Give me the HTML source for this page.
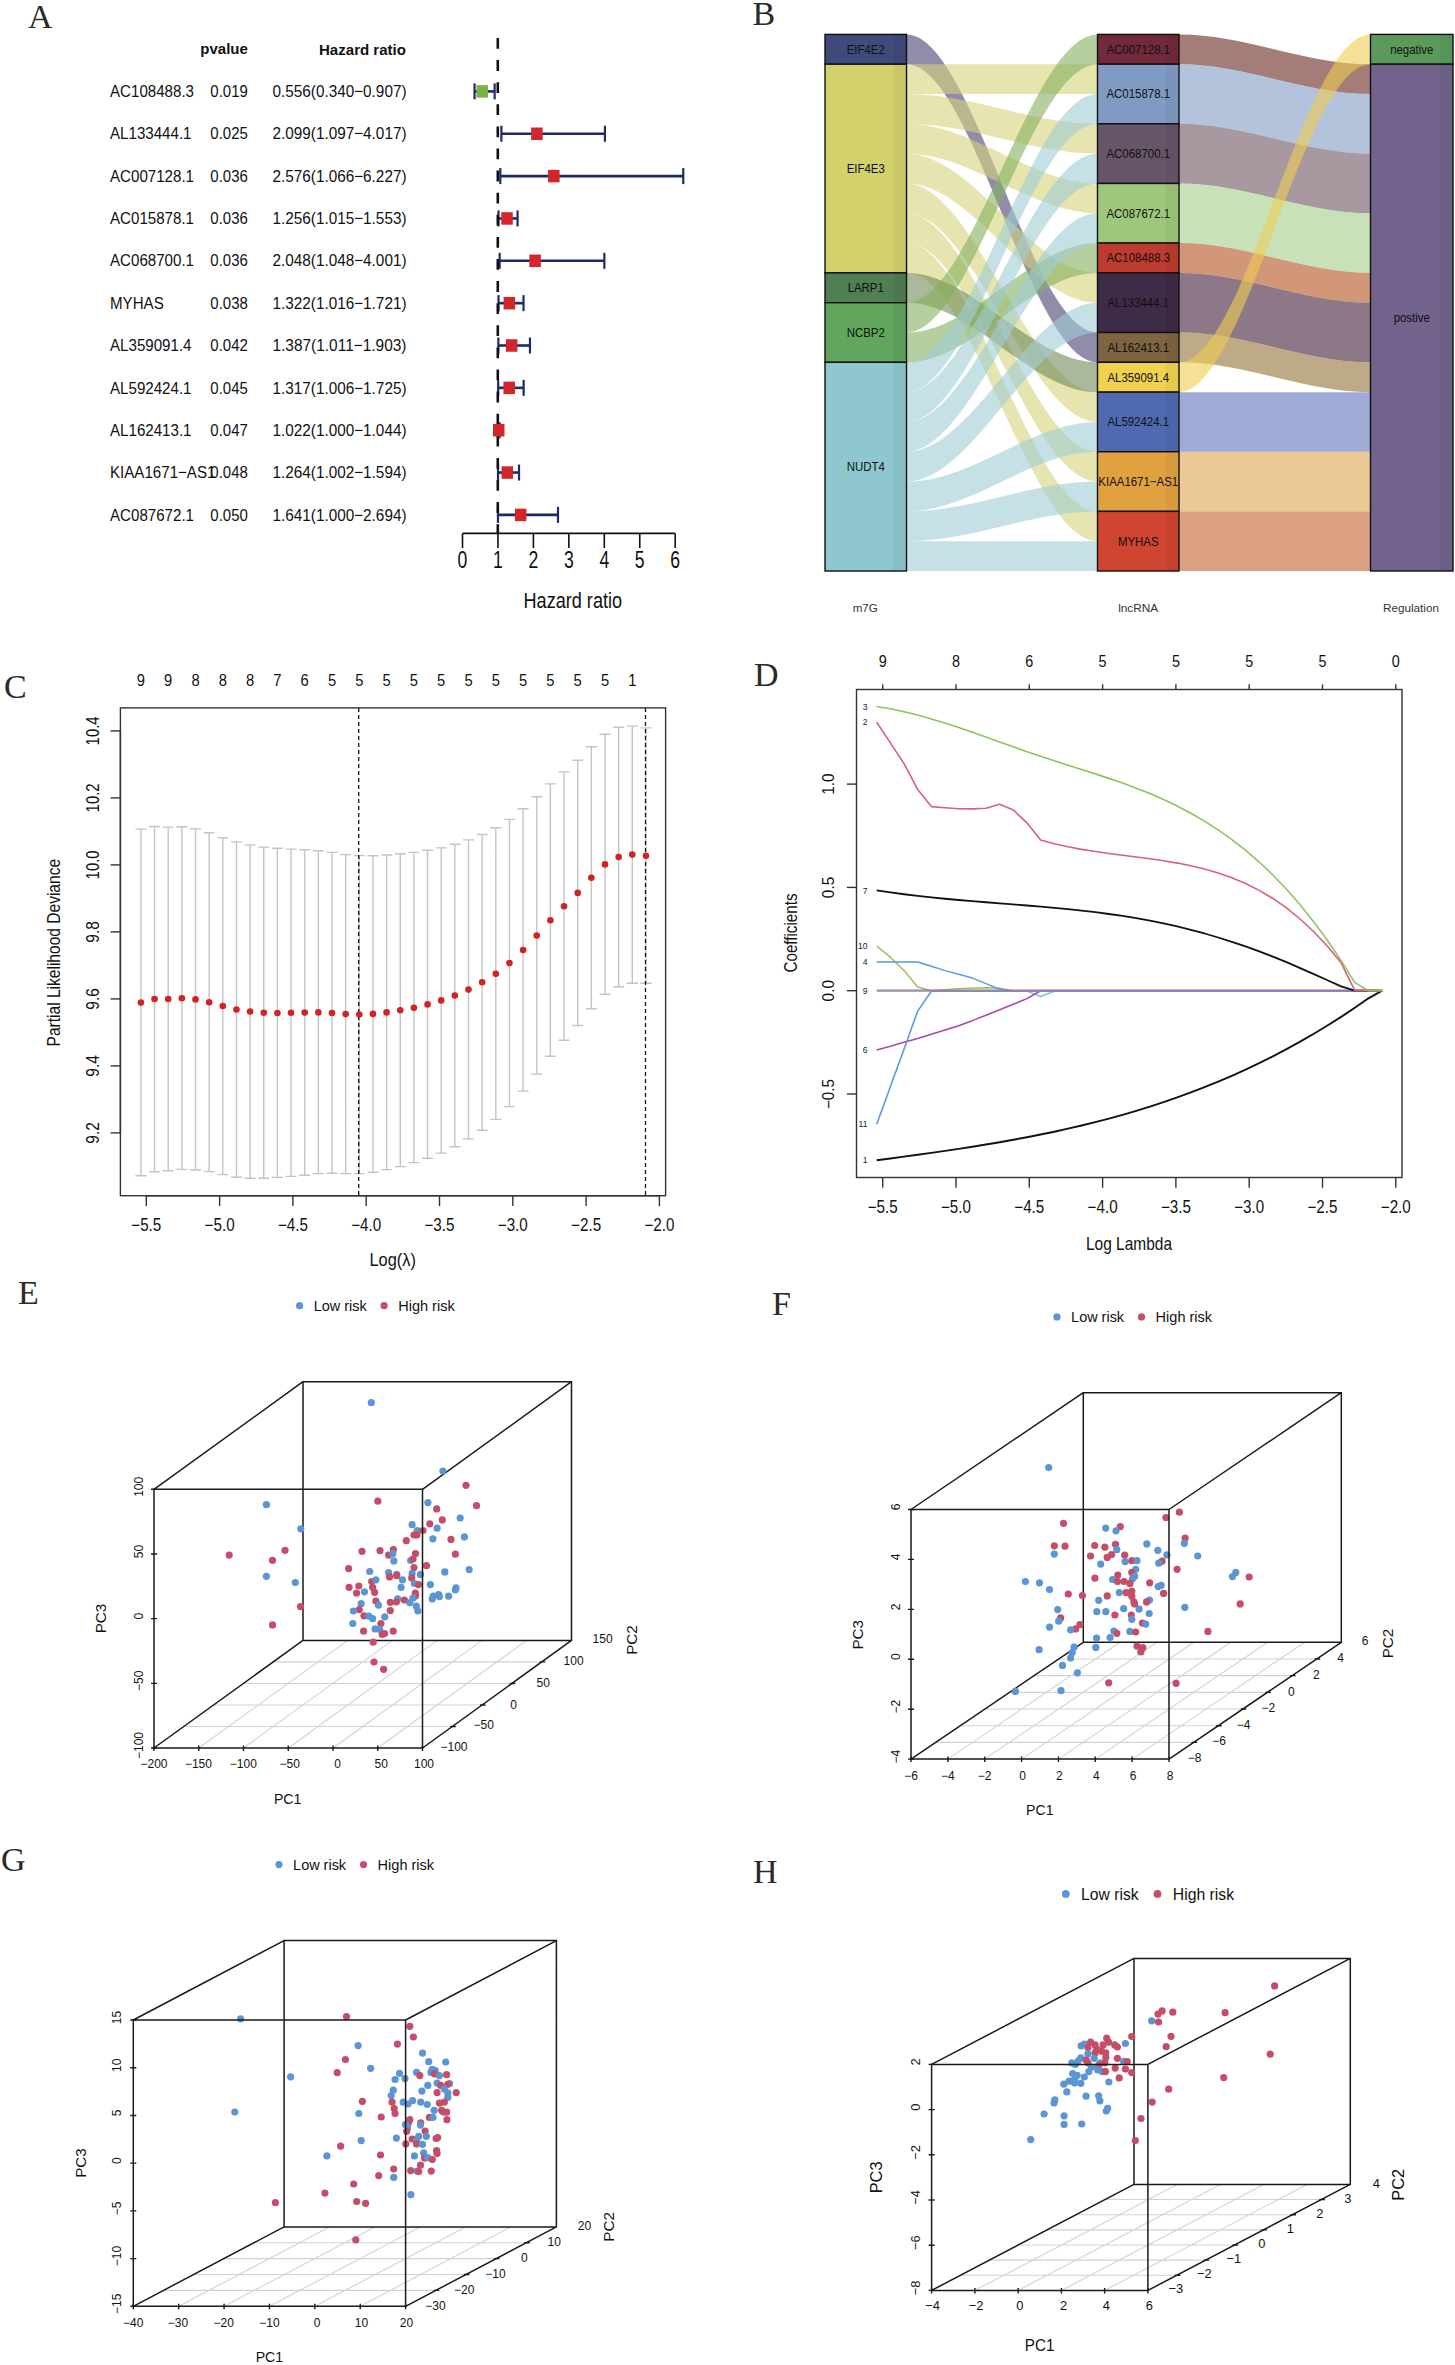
<!DOCTYPE html>
<html><head><meta charset="utf-8"><title>Figure</title>
<style>html,body{margin:0;padding:0;background:#fff;}svg{display:block;}</style>
</head><body>
<svg width="1455" height="2365" viewBox="0 0 1455 2365" font-family='"Liberation Sans", sans-serif'>
<rect width="1455" height="2365" fill="#fff"/>
<text x="28" y="27.5" font-size="34" text-anchor="start" fill="#2a2a2a" font-family='"Liberation Serif", serif' >A</text>
<text x="247.8" y="53.5" font-size="15.5" text-anchor="end" fill="#111" font-weight="bold" textLength="47.5" lengthAdjust="spacingAndGlyphs" >pvalue</text>
<text x="406" y="55.3" font-size="15.5" text-anchor="end" fill="#111" font-weight="bold" textLength="87" lengthAdjust="spacingAndGlyphs" >Hazard ratio</text>
<text x="110" y="96.8" font-size="16.7" text-anchor="start" fill="#111" textLength="84" lengthAdjust="spacingAndGlyphs" >AC108488.3</text>
<text x="247.8" y="96.8" font-size="16.7" text-anchor="end" fill="#111" textLength="37.5" lengthAdjust="spacingAndGlyphs" >0.019</text>
<text x="406.5" y="96.8" font-size="16.7" text-anchor="end" fill="#111" textLength="134" lengthAdjust="spacingAndGlyphs" >0.556(0.340−0.907)</text>
<line x1="474.55" y1="91.4" x2="494.65" y2="91.4" stroke="#1f2a6b" stroke-width="2.6" />
<line x1="474.55" y1="83.4" x2="474.55" y2="99.4" stroke="#1f2a6b" stroke-width="2.2" />
<line x1="494.65" y1="83.4" x2="494.65" y2="99.4" stroke="#1f2a6b" stroke-width="2.2" />
<text x="110" y="139.2" font-size="16.7" text-anchor="start" fill="#111" textLength="81.49" lengthAdjust="spacingAndGlyphs" >AL133444.1</text>
<text x="247.8" y="139.2" font-size="16.7" text-anchor="end" fill="#111" textLength="37.5" lengthAdjust="spacingAndGlyphs" >0.025</text>
<text x="406.5" y="139.2" font-size="16.7" text-anchor="end" fill="#111" textLength="134" lengthAdjust="spacingAndGlyphs" >2.099(1.097−4.017)</text>
<line x1="501.39" y1="133.75" x2="604.9" y2="133.75" stroke="#1f2a6b" stroke-width="2.6" />
<line x1="501.39" y1="125.75" x2="501.39" y2="141.75" stroke="#1f2a6b" stroke-width="2.2" />
<line x1="604.9" y1="125.75" x2="604.9" y2="141.75" stroke="#1f2a6b" stroke-width="2.2" />
<text x="110" y="181.6" font-size="16.7" text-anchor="start" fill="#111" textLength="84" lengthAdjust="spacingAndGlyphs" >AC007128.1</text>
<text x="247.8" y="181.6" font-size="16.7" text-anchor="end" fill="#111" textLength="37.5" lengthAdjust="spacingAndGlyphs" >0.036</text>
<text x="406.5" y="181.6" font-size="16.7" text-anchor="end" fill="#111" textLength="134" lengthAdjust="spacingAndGlyphs" >2.576(1.066−6.227)</text>
<line x1="500.29" y1="176.1" x2="683.25" y2="176.1" stroke="#1f2a6b" stroke-width="2.6" />
<line x1="500.29" y1="168.1" x2="500.29" y2="184.1" stroke="#1f2a6b" stroke-width="2.2" />
<line x1="683.25" y1="168.1" x2="683.25" y2="184.1" stroke="#1f2a6b" stroke-width="2.2" />
<text x="110" y="224" font-size="16.7" text-anchor="start" fill="#111" textLength="84" lengthAdjust="spacingAndGlyphs" >AC015878.1</text>
<text x="247.8" y="224" font-size="16.7" text-anchor="end" fill="#111" textLength="37.5" lengthAdjust="spacingAndGlyphs" >0.036</text>
<text x="406.5" y="224" font-size="16.7" text-anchor="end" fill="#111" textLength="134" lengthAdjust="spacingAndGlyphs" >1.256(1.015−1.553)</text>
<line x1="498.48" y1="218.45" x2="517.55" y2="218.45" stroke="#1f2a6b" stroke-width="2.6" />
<line x1="498.48" y1="210.45" x2="498.48" y2="226.45" stroke="#1f2a6b" stroke-width="2.2" />
<line x1="517.55" y1="210.45" x2="517.55" y2="226.45" stroke="#1f2a6b" stroke-width="2.2" />
<text x="110" y="266.4" font-size="16.7" text-anchor="start" fill="#111" textLength="84" lengthAdjust="spacingAndGlyphs" >AC068700.1</text>
<text x="247.8" y="266.4" font-size="16.7" text-anchor="end" fill="#111" textLength="37.5" lengthAdjust="spacingAndGlyphs" >0.036</text>
<text x="406.5" y="266.4" font-size="16.7" text-anchor="end" fill="#111" textLength="134" lengthAdjust="spacingAndGlyphs" >2.048(1.048−4.001)</text>
<line x1="499.65" y1="260.8" x2="604.34" y2="260.8" stroke="#1f2a6b" stroke-width="2.6" />
<line x1="499.65" y1="252.8" x2="499.65" y2="268.8" stroke="#1f2a6b" stroke-width="2.2" />
<line x1="604.34" y1="252.8" x2="604.34" y2="268.8" stroke="#1f2a6b" stroke-width="2.2" />
<text x="110" y="308.8" font-size="16.7" text-anchor="start" fill="#111" textLength="53.73" lengthAdjust="spacingAndGlyphs" >MYHAS</text>
<text x="247.8" y="308.8" font-size="16.7" text-anchor="end" fill="#111" textLength="37.5" lengthAdjust="spacingAndGlyphs" >0.038</text>
<text x="406.5" y="308.8" font-size="16.7" text-anchor="end" fill="#111" textLength="134" lengthAdjust="spacingAndGlyphs" >1.322(1.016−1.721)</text>
<line x1="498.52" y1="303.15" x2="523.51" y2="303.15" stroke="#1f2a6b" stroke-width="2.6" />
<line x1="498.52" y1="295.15" x2="498.52" y2="311.15" stroke="#1f2a6b" stroke-width="2.2" />
<line x1="523.51" y1="295.15" x2="523.51" y2="311.15" stroke="#1f2a6b" stroke-width="2.2" />
<text x="110" y="351.2" font-size="16.7" text-anchor="start" fill="#111" textLength="81.49" lengthAdjust="spacingAndGlyphs" >AL359091.4</text>
<text x="247.8" y="351.2" font-size="16.7" text-anchor="end" fill="#111" textLength="37.5" lengthAdjust="spacingAndGlyphs" >0.042</text>
<text x="406.5" y="351.2" font-size="16.7" text-anchor="end" fill="#111" textLength="134" lengthAdjust="spacingAndGlyphs" >1.387(1.011−1.903)</text>
<line x1="498.34" y1="345.5" x2="529.96" y2="345.5" stroke="#1f2a6b" stroke-width="2.6" />
<line x1="498.34" y1="337.5" x2="498.34" y2="353.5" stroke="#1f2a6b" stroke-width="2.2" />
<line x1="529.96" y1="337.5" x2="529.96" y2="353.5" stroke="#1f2a6b" stroke-width="2.2" />
<text x="110" y="393.6" font-size="16.7" text-anchor="start" fill="#111" textLength="81.49" lengthAdjust="spacingAndGlyphs" >AL592424.1</text>
<text x="247.8" y="393.6" font-size="16.7" text-anchor="end" fill="#111" textLength="37.5" lengthAdjust="spacingAndGlyphs" >0.045</text>
<text x="406.5" y="393.6" font-size="16.7" text-anchor="end" fill="#111" textLength="134" lengthAdjust="spacingAndGlyphs" >1.317(1.006−1.725)</text>
<line x1="498.16" y1="387.85" x2="523.65" y2="387.85" stroke="#1f2a6b" stroke-width="2.6" />
<line x1="498.16" y1="379.85" x2="498.16" y2="395.85" stroke="#1f2a6b" stroke-width="2.2" />
<line x1="523.65" y1="379.85" x2="523.65" y2="395.85" stroke="#1f2a6b" stroke-width="2.2" />
<text x="110" y="436" font-size="16.7" text-anchor="start" fill="#111" textLength="81.49" lengthAdjust="spacingAndGlyphs" >AL162413.1</text>
<text x="247.8" y="436" font-size="16.7" text-anchor="end" fill="#111" textLength="37.5" lengthAdjust="spacingAndGlyphs" >0.047</text>
<text x="406.5" y="436" font-size="16.7" text-anchor="end" fill="#111" textLength="134" lengthAdjust="spacingAndGlyphs" >1.022(1.000−1.044)</text>
<line x1="497.95" y1="430.2" x2="499.51" y2="430.2" stroke="#1f2a6b" stroke-width="2.6" />
<line x1="497.95" y1="422.2" x2="497.95" y2="438.2" stroke="#1f2a6b" stroke-width="2.2" />
<line x1="499.51" y1="422.2" x2="499.51" y2="438.2" stroke="#1f2a6b" stroke-width="2.2" />
<text x="110" y="478.4" font-size="16.7" text-anchor="start" fill="#111" textLength="105.42" lengthAdjust="spacingAndGlyphs" >KIAA1671−AS1</text>
<text x="247.8" y="478.4" font-size="16.7" text-anchor="end" fill="#111" textLength="37.5" lengthAdjust="spacingAndGlyphs" >0.048</text>
<text x="406.5" y="478.4" font-size="16.7" text-anchor="end" fill="#111" textLength="134" lengthAdjust="spacingAndGlyphs" >1.264(1.002−1.594)</text>
<line x1="498.02" y1="472.55" x2="519.01" y2="472.55" stroke="#1f2a6b" stroke-width="2.6" />
<line x1="498.02" y1="464.55" x2="498.02" y2="480.55" stroke="#1f2a6b" stroke-width="2.2" />
<line x1="519.01" y1="464.55" x2="519.01" y2="480.55" stroke="#1f2a6b" stroke-width="2.2" />
<text x="110" y="520.8" font-size="16.7" text-anchor="start" fill="#111" textLength="84" lengthAdjust="spacingAndGlyphs" >AC087672.1</text>
<text x="247.8" y="520.8" font-size="16.7" text-anchor="end" fill="#111" textLength="37.5" lengthAdjust="spacingAndGlyphs" >0.050</text>
<text x="406.5" y="520.8" font-size="16.7" text-anchor="end" fill="#111" textLength="134" lengthAdjust="spacingAndGlyphs" >1.641(1.000−2.694)</text>
<line x1="497.95" y1="514.9" x2="558" y2="514.9" stroke="#1f2a6b" stroke-width="2.6" />
<line x1="497.95" y1="506.9" x2="497.95" y2="522.9" stroke="#1f2a6b" stroke-width="2.2" />
<line x1="558" y1="506.9" x2="558" y2="522.9" stroke="#1f2a6b" stroke-width="2.2" />
<line x1="497.8" y1="38" x2="497.8" y2="533.5" stroke="#111" stroke-width="2.6" stroke-dasharray="10.8,11.3"/>
<rect x="476.46" y="85.15" width="11.5" height="12.5" fill="#7bb342"/>
<rect x="531.16" y="127.5" width="11.5" height="12.5" fill="#d3262b"/>
<rect x="548.07" y="169.85" width="11.5" height="12.5" fill="#d3262b"/>
<rect x="501.28" y="212.2" width="11.5" height="12.5" fill="#d3262b"/>
<rect x="529.35" y="254.55" width="11.5" height="12.5" fill="#d3262b"/>
<rect x="503.61" y="296.9" width="11.5" height="12.5" fill="#d3262b"/>
<rect x="505.92" y="339.25" width="11.5" height="12.5" fill="#d3262b"/>
<rect x="503.44" y="381.6" width="11.5" height="12.5" fill="#d3262b"/>
<rect x="492.98" y="423.95" width="11.5" height="12.5" fill="#d3262b"/>
<rect x="501.56" y="466.3" width="11.5" height="12.5" fill="#d3262b"/>
<rect x="514.92" y="508.65" width="11.5" height="12.5" fill="#d3262b"/>
<line x1="462.5" y1="533.4" x2="675.2" y2="533.4" stroke="#111" stroke-width="1.6" />
<line x1="462.5" y1="533.4" x2="462.5" y2="548" stroke="#111" stroke-width="1.6" />
<text x="462.5" y="568.4" font-size="23.8" text-anchor="middle" fill="#111" textLength="9.8" lengthAdjust="spacingAndGlyphs" >0</text>
<line x1="497.95" y1="533.4" x2="497.95" y2="548" stroke="#111" stroke-width="1.6" />
<text x="497.95" y="568.4" font-size="23.8" text-anchor="middle" fill="#111" textLength="9.8" lengthAdjust="spacingAndGlyphs" >1</text>
<line x1="533.4" y1="533.4" x2="533.4" y2="548" stroke="#111" stroke-width="1.6" />
<text x="533.4" y="568.4" font-size="23.8" text-anchor="middle" fill="#111" textLength="9.8" lengthAdjust="spacingAndGlyphs" >2</text>
<line x1="568.85" y1="533.4" x2="568.85" y2="548" stroke="#111" stroke-width="1.6" />
<text x="568.85" y="568.4" font-size="23.8" text-anchor="middle" fill="#111" textLength="9.8" lengthAdjust="spacingAndGlyphs" >3</text>
<line x1="604.3" y1="533.4" x2="604.3" y2="548" stroke="#111" stroke-width="1.6" />
<text x="604.3" y="568.4" font-size="23.8" text-anchor="middle" fill="#111" textLength="9.8" lengthAdjust="spacingAndGlyphs" >4</text>
<line x1="639.75" y1="533.4" x2="639.75" y2="548" stroke="#111" stroke-width="1.6" />
<text x="639.75" y="568.4" font-size="23.8" text-anchor="middle" fill="#111" textLength="9.8" lengthAdjust="spacingAndGlyphs" >5</text>
<line x1="675.2" y1="533.4" x2="675.2" y2="548" stroke="#111" stroke-width="1.6" />
<text x="675.2" y="568.4" font-size="23.8" text-anchor="middle" fill="#111" textLength="9.8" lengthAdjust="spacingAndGlyphs" >6</text>
<text x="572.8" y="608.3" font-size="22.5" text-anchor="middle" fill="#111" textLength="98.5" lengthAdjust="spacingAndGlyphs" >Hazard ratio</text>
<text x="752.5" y="25.2" font-size="34" text-anchor="start" fill="#2a2a2a" font-family='"Liberation Serif", serif' >B</text>
<path d="M906.5,34.4 C973.35,34.4 1030.65,332.51 1097.5,332.51 L1097.5,362.32 C1030.65,362.32 973.35,64.21 906.5,64.21 Z" fill="#483f71" fill-opacity="0.6"/>
<path d="M906.5,64.21 C973.35,64.21 1030.65,64.21 1097.5,64.21 L1097.5,94.02 C1030.65,94.02 973.35,94.02 906.5,94.02 Z" fill="#d5d27a" fill-opacity="0.6"/>
<path d="M906.5,94.02 C973.35,94.02 1030.65,123.83 1097.5,123.83 L1097.5,153.64 C1030.65,153.64 973.35,123.83 906.5,123.83 Z" fill="#d5d27a" fill-opacity="0.6"/>
<path d="M906.5,123.83 C973.35,123.83 1030.65,183.46 1097.5,183.46 L1097.5,213.27 C1030.65,213.27 973.35,153.64 906.5,153.64 Z" fill="#d5d27a" fill-opacity="0.6"/>
<path d="M906.5,153.64 C973.35,153.64 1030.65,272.89 1097.5,272.89 L1097.5,302.7 C1030.65,302.7 973.35,183.46 906.5,183.46 Z" fill="#d5d27a" fill-opacity="0.6"/>
<path d="M906.5,183.46 C973.35,183.46 1030.65,392.13 1097.5,392.13 L1097.5,421.94 C1030.65,421.94 973.35,213.27 906.5,213.27 Z" fill="#d5d27a" fill-opacity="0.6"/>
<path d="M906.5,213.27 C973.35,213.27 1030.65,451.76 1097.5,451.76 L1097.5,481.57 C1030.65,481.57 973.35,243.08 906.5,243.08 Z" fill="#d5d27a" fill-opacity="0.6"/>
<path d="M906.5,243.08 C973.35,243.08 1030.65,511.38 1097.5,511.38 L1097.5,541.19 C1030.65,541.19 973.35,272.89 906.5,272.89 Z" fill="#d5d27a" fill-opacity="0.6"/>
<path d="M906.5,272.89 C973.35,272.89 1030.65,362.32 1097.5,362.32 L1097.5,392.13 C1030.65,392.13 973.35,302.7 906.5,302.7 Z" fill="#718a58" fill-opacity="0.6"/>
<path d="M906.5,302.7 C973.35,302.7 1030.65,34.4 1097.5,34.4 L1097.5,64.21 C1030.65,64.21 973.35,332.51 906.5,332.51 Z" fill="#84af5d" fill-opacity="0.6"/>
<path d="M906.5,332.51 C973.35,332.51 1030.65,243.08 1097.5,243.08 L1097.5,272.89 C1030.65,272.89 973.35,362.32 906.5,362.32 Z" fill="#84af5d" fill-opacity="0.6"/>
<path d="M906.5,362.32 C973.35,362.32 1030.65,94.02 1097.5,94.02 L1097.5,123.83 C1030.65,123.83 973.35,392.13 906.5,392.13 Z" fill="#a0cdd5" fill-opacity="0.6"/>
<path d="M906.5,392.13 C973.35,392.13 1030.65,153.64 1097.5,153.64 L1097.5,183.46 C1030.65,183.46 973.35,421.94 906.5,421.94 Z" fill="#a0cdd5" fill-opacity="0.6"/>
<path d="M906.5,421.94 C973.35,421.94 1030.65,213.27 1097.5,213.27 L1097.5,243.08 C1030.65,243.08 973.35,451.76 906.5,451.76 Z" fill="#a0cdd5" fill-opacity="0.6"/>
<path d="M906.5,451.76 C973.35,451.76 1030.65,302.7 1097.5,302.7 L1097.5,332.51 C1030.65,332.51 973.35,481.57 906.5,481.57 Z" fill="#a0cdd5" fill-opacity="0.6"/>
<path d="M906.5,481.57 C973.35,481.57 1030.65,421.94 1097.5,421.94 L1097.5,451.76 C1030.65,451.76 973.35,511.38 906.5,511.38 Z" fill="#a0cdd5" fill-opacity="0.6"/>
<path d="M906.5,511.38 C973.35,511.38 1030.65,481.57 1097.5,481.57 L1097.5,511.38 C1030.65,511.38 973.35,541.19 906.5,541.19 Z" fill="#a0cdd5" fill-opacity="0.6"/>
<path d="M906.5,541.19 C973.35,541.19 1030.65,541.19 1097.5,541.19 L1097.5,571 C1030.65,571 973.35,571 906.5,571 Z" fill="#a0cdd5" fill-opacity="0.6"/>
<path d="M1179,34.4 C1246.03,34.4 1303.47,64.21 1370.5,64.21 L1370.5,94.02 C1303.47,94.02 1246.03,64.21 1179,64.21 Z" fill="#69261e" fill-opacity="0.6"/>
<path d="M1179,64.21 C1246.03,64.21 1303.47,94.02 1370.5,94.02 L1370.5,153.64 C1303.47,153.64 1246.03,123.83 1179,123.83 Z" fill="#829bc5" fill-opacity="0.6"/>
<path d="M1179,123.83 C1246.03,123.83 1303.47,153.64 1370.5,153.64 L1370.5,213.27 C1303.47,213.27 1246.03,183.46 1179,183.46 Z" fill="#6e5361" fill-opacity="0.6"/>
<path d="M1179,183.46 C1246.03,183.46 1303.47,213.27 1370.5,213.27 L1370.5,272.89 C1303.47,272.89 1246.03,243.08 1179,243.08 Z" fill="#a3cd8a" fill-opacity="0.6"/>
<path d="M1179,243.08 C1246.03,243.08 1303.47,272.89 1370.5,272.89 L1370.5,302.7 C1303.47,302.7 1246.03,272.89 1179,272.89 Z" fill="#b4501e" fill-opacity="0.6"/>
<path d="M1179,272.89 C1246.03,272.89 1303.47,302.7 1370.5,302.7 L1370.5,362.32 C1303.47,362.32 1246.03,332.51 1179,332.51 Z" fill="#3f1e37" fill-opacity="0.6"/>
<path d="M1179,332.51 C1246.03,332.51 1303.47,362.32 1370.5,362.32 L1370.5,392.13 C1303.47,392.13 1246.03,362.32 1179,362.32 Z" fill="#937137" fill-opacity="0.6"/>
<path d="M1179,362.32 C1246.03,362.32 1303.47,34.4 1370.5,34.4 L1370.5,64.21 C1303.47,64.21 1246.03,392.13 1179,392.13 Z" fill="#eecd50" fill-opacity="0.6"/>
<path d="M1179,392.13 C1246.03,392.13 1303.47,392.13 1370.5,392.13 L1370.5,451.76 C1303.47,451.76 1246.03,451.76 1179,451.76 Z" fill="#6171bc" fill-opacity="0.6"/>
<path d="M1179,451.76 C1246.03,451.76 1303.47,451.76 1370.5,451.76 L1370.5,511.38 C1303.47,511.38 1246.03,511.38 1179,511.38 Z" fill="#dea350" fill-opacity="0.6"/>
<path d="M1179,511.38 C1246.03,511.38 1303.47,511.38 1370.5,511.38 L1370.5,571 C1303.47,571 1246.03,571 1179,571 Z" fill="#c5612f" fill-opacity="0.6"/>
<rect x="825" y="34.4" width="81.5" height="29.81" fill="#3f4b7d"/>
<rect x="893.5" y="34.4" width="13" height="29.81" fill="#000" fill-opacity="0.045"/>
<rect x="825" y="34.4" width="81.5" height="29.81" fill="none" stroke="#111" stroke-width="1.4"/>
<text x="865.75" y="53.71" font-size="12.3" text-anchor="middle" fill="#111" textLength="38.15" lengthAdjust="spacingAndGlyphs" >EIF4E2</text>
<rect x="825" y="64.21" width="81.5" height="208.68" fill="#d3d16c"/>
<rect x="893.5" y="64.21" width="13" height="208.68" fill="#000" fill-opacity="0.045"/>
<rect x="825" y="64.21" width="81.5" height="208.68" fill="none" stroke="#111" stroke-width="1.4"/>
<text x="865.75" y="172.95" font-size="12.3" text-anchor="middle" fill="#111" textLength="38.15" lengthAdjust="spacingAndGlyphs" >EIF4E3</text>
<rect x="825" y="272.89" width="81.5" height="29.81" fill="#4f7f53"/>
<rect x="893.5" y="272.89" width="13" height="29.81" fill="#000" fill-opacity="0.045"/>
<rect x="825" y="272.89" width="81.5" height="29.81" fill="none" stroke="#111" stroke-width="1.4"/>
<text x="865.75" y="292.19" font-size="12.3" text-anchor="middle" fill="#111" textLength="36.24" lengthAdjust="spacingAndGlyphs" >LARP1</text>
<rect x="825" y="302.7" width="81.5" height="59.62" fill="#61a65d"/>
<rect x="893.5" y="302.7" width="13" height="59.62" fill="#000" fill-opacity="0.045"/>
<rect x="825" y="302.7" width="81.5" height="59.62" fill="none" stroke="#111" stroke-width="1.4"/>
<text x="865.75" y="336.91" font-size="12.3" text-anchor="middle" fill="#111" textLength="38.14" lengthAdjust="spacingAndGlyphs" >NCBP2</text>
<rect x="825" y="362.32" width="81.5" height="208.68" fill="#8fc7d0"/>
<rect x="893.5" y="362.32" width="13" height="208.68" fill="#000" fill-opacity="0.045"/>
<rect x="825" y="362.32" width="81.5" height="208.68" fill="none" stroke="#111" stroke-width="1.4"/>
<text x="865.75" y="471.06" font-size="12.3" text-anchor="middle" fill="#111" textLength="38.13" lengthAdjust="spacingAndGlyphs" >NUDT4</text>
<rect x="1097.5" y="34.4" width="81.5" height="29.81" fill="#72293a"/>
<rect x="1166" y="34.4" width="13" height="29.81" fill="#000" fill-opacity="0.045"/>
<rect x="1097.5" y="34.4" width="81.5" height="29.81" fill="none" stroke="#111" stroke-width="1.4"/>
<text x="1138.25" y="53.71" font-size="12.3" text-anchor="middle" fill="#111" textLength="63.6" lengthAdjust="spacingAndGlyphs" >AC007128.1</text>
<rect x="1097.5" y="64.21" width="81.5" height="59.62" fill="#7f9bc4"/>
<rect x="1166" y="64.21" width="13" height="59.62" fill="#000" fill-opacity="0.045"/>
<rect x="1097.5" y="64.21" width="81.5" height="59.62" fill="none" stroke="#111" stroke-width="1.4"/>
<text x="1138.25" y="98.42" font-size="12.3" text-anchor="middle" fill="#111" textLength="63.6" lengthAdjust="spacingAndGlyphs" >AC015878.1</text>
<rect x="1097.5" y="123.83" width="81.5" height="59.62" fill="#675568"/>
<rect x="1166" y="123.83" width="13" height="59.62" fill="#000" fill-opacity="0.045"/>
<rect x="1097.5" y="123.83" width="81.5" height="59.62" fill="none" stroke="#111" stroke-width="1.4"/>
<text x="1138.25" y="158.04" font-size="12.3" text-anchor="middle" fill="#111" textLength="63.6" lengthAdjust="spacingAndGlyphs" >AC068700.1</text>
<rect x="1097.5" y="183.46" width="81.5" height="59.62" fill="#9dc77b"/>
<rect x="1166" y="183.46" width="13" height="59.62" fill="#000" fill-opacity="0.045"/>
<rect x="1097.5" y="183.46" width="81.5" height="59.62" fill="none" stroke="#111" stroke-width="1.4"/>
<text x="1138.25" y="217.67" font-size="12.3" text-anchor="middle" fill="#111" textLength="63.6" lengthAdjust="spacingAndGlyphs" >AC087672.1</text>
<rect x="1097.5" y="243.08" width="81.5" height="29.81" fill="#bd3b2f"/>
<rect x="1166" y="243.08" width="13" height="29.81" fill="#000" fill-opacity="0.045"/>
<rect x="1097.5" y="243.08" width="81.5" height="29.81" fill="none" stroke="#111" stroke-width="1.4"/>
<text x="1138.25" y="262.38" font-size="12.3" text-anchor="middle" fill="#111" textLength="63.6" lengthAdjust="spacingAndGlyphs" >AC108488.3</text>
<rect x="1097.5" y="272.89" width="81.5" height="59.62" fill="#3e2b48"/>
<rect x="1166" y="272.89" width="13" height="59.62" fill="#000" fill-opacity="0.045"/>
<rect x="1097.5" y="272.89" width="81.5" height="59.62" fill="none" stroke="#111" stroke-width="1.4"/>
<text x="1138.25" y="307.1" font-size="12.3" text-anchor="middle" fill="#111" textLength="61.7" lengthAdjust="spacingAndGlyphs" >AL133444.1</text>
<rect x="1097.5" y="332.51" width="81.5" height="29.81" fill="#7e6440"/>
<rect x="1166" y="332.51" width="13" height="29.81" fill="#000" fill-opacity="0.045"/>
<rect x="1097.5" y="332.51" width="81.5" height="29.81" fill="none" stroke="#111" stroke-width="1.4"/>
<text x="1138.25" y="351.82" font-size="12.3" text-anchor="middle" fill="#111" textLength="61.7" lengthAdjust="spacingAndGlyphs" >AL162413.1</text>
<rect x="1097.5" y="362.32" width="81.5" height="29.81" fill="#f0d150"/>
<rect x="1166" y="362.32" width="13" height="29.81" fill="#000" fill-opacity="0.045"/>
<rect x="1097.5" y="362.32" width="81.5" height="29.81" fill="none" stroke="#111" stroke-width="1.4"/>
<text x="1138.25" y="381.63" font-size="12.3" text-anchor="middle" fill="#111" textLength="61.7" lengthAdjust="spacingAndGlyphs" >AL359091.4</text>
<rect x="1097.5" y="392.13" width="81.5" height="59.62" fill="#5169b1"/>
<rect x="1166" y="392.13" width="13" height="59.62" fill="#000" fill-opacity="0.045"/>
<rect x="1097.5" y="392.13" width="81.5" height="59.62" fill="none" stroke="#111" stroke-width="1.4"/>
<text x="1138.25" y="426.34" font-size="12.3" text-anchor="middle" fill="#111" textLength="61.7" lengthAdjust="spacingAndGlyphs" >AL592424.1</text>
<rect x="1097.5" y="451.76" width="81.5" height="59.62" fill="#e2a141"/>
<rect x="1166" y="451.76" width="13" height="59.62" fill="#000" fill-opacity="0.045"/>
<rect x="1097.5" y="451.76" width="81.5" height="59.62" fill="none" stroke="#111" stroke-width="1.4"/>
<text x="1138.25" y="485.97" font-size="12.3" text-anchor="middle" fill="#111" textLength="79.82" lengthAdjust="spacingAndGlyphs" >KIAA1671−AS1</text>
<rect x="1097.5" y="511.38" width="81.5" height="59.62" fill="#d0452f"/>
<rect x="1166" y="511.38" width="13" height="59.62" fill="#000" fill-opacity="0.045"/>
<rect x="1097.5" y="511.38" width="81.5" height="59.62" fill="none" stroke="#111" stroke-width="1.4"/>
<text x="1138.25" y="545.59" font-size="12.3" text-anchor="middle" fill="#111" textLength="40.68" lengthAdjust="spacingAndGlyphs" >MYHAS</text>
<rect x="1370.5" y="34.4" width="82.5" height="29.81" fill="#5c9a5c"/>
<rect x="1440" y="34.4" width="13" height="29.81" fill="#000" fill-opacity="0.045"/>
<rect x="1370.5" y="34.4" width="82.5" height="29.81" fill="none" stroke="#111" stroke-width="1.4"/>
<text x="1411.75" y="53.71" font-size="12.3" text-anchor="middle" fill="#111" textLength="43.24" lengthAdjust="spacingAndGlyphs" >negative</text>
<rect x="1370.5" y="64.21" width="82.5" height="506.79" fill="#72638c"/>
<rect x="1440" y="64.21" width="13" height="506.79" fill="#000" fill-opacity="0.045"/>
<rect x="1370.5" y="64.21" width="82.5" height="506.79" fill="none" stroke="#111" stroke-width="1.4"/>
<text x="1411.75" y="322.01" font-size="12.3" text-anchor="middle" fill="#111" textLength="36.24" lengthAdjust="spacingAndGlyphs" >postive</text>
<text x="865.2" y="612.4" font-size="11.8" text-anchor="middle" fill="#333" textLength="25" lengthAdjust="spacingAndGlyphs" >m7G</text>
<text x="1138.2" y="612.4" font-size="11.8" text-anchor="middle" fill="#333" textLength="40" lengthAdjust="spacingAndGlyphs" >lncRNA</text>
<text x="1411" y="612.4" font-size="11.8" text-anchor="middle" fill="#333" textLength="56" lengthAdjust="spacingAndGlyphs" >Regulation</text>
<text x="4" y="697.5" font-size="34" text-anchor="start" fill="#2a2a2a" font-family='"Liberation Serif", serif' >C</text>
<path d="M140.9,829.1V1175.8M135.4,829.1H146.4M135.4,1175.8H146.4M154.55,826.5V1171.8M149.05,826.5H160.05M149.05,1171.8H160.05M168.2,827.1V1170.8M162.7,827.1H173.7M162.7,1170.8H173.7M181.85,826.7V1169.4M176.35,826.7H187.35M176.35,1169.4H187.35M195.5,828.9V1170M190,828.9H201M190,1170H201M209.15,832.7V1171.6M203.65,832.7H214.65M203.65,1171.6H214.65M222.8,837.7V1174.6M217.3,837.7H228.3M217.3,1174.6H228.3M236.45,841.9V1177.2M230.95,841.9H241.95M230.95,1177.2H241.95M250.1,844.9V1178.2M244.6,844.9H255.6M244.6,1178.2H255.6M263.75,847.1V1178.2M258.25,847.1H269.25M258.25,1178.2H269.25M277.4,848.3V1177.4M271.9,848.3H282.9M271.9,1177.4H282.9M291.05,849.1V1176.4M285.55,849.1H296.55M285.55,1176.4H296.55M304.7,849.7V1175.2M299.2,849.7H310.2M299.2,1175.2H310.2M318.35,850.7V1173.6M312.85,850.7H323.85M312.85,1173.6H323.85M332,852.4V1173.2M326.5,852.4H337.5M326.5,1173.2H337.5M345.65,854.6V1173.6M340.15,854.6H351.15M340.15,1173.6H351.15M359.3,855.6V1173.6M353.8,855.6H364.8M353.8,1173.6H364.8M372.95,855.8V1172.2M367.45,855.8H378.45M367.45,1172.2H378.45M386.6,855V1169.6M381.1,855H392.1M381.1,1169.6H392.1M400.25,853.8V1166.6M394.75,853.8H405.75M394.75,1166.6H405.75M413.9,852.4V1162.6M408.4,852.4H419.4M408.4,1162.6H419.4M427.55,850.2V1158.3M422.05,850.2H433.05M422.05,1158.3H433.05M441.2,847.9V1153.1M435.7,847.9H446.7M435.7,1153.1H446.7M454.85,844.3V1146.7M449.35,844.3H460.35M449.35,1146.7H460.35M468.5,839.9V1138.9M463,839.9H474M463,1138.9H474M482.15,834.5V1130.2M476.65,834.5H487.65M476.65,1130.2H487.65M495.8,827.7V1119.4M490.3,827.7H501.3M490.3,1119.4H501.3M509.45,819.4V1106.6M503.95,819.4H514.95M503.95,1106.6H514.95M523.1,808.8V1091.1M517.6,808.8H528.6M517.6,1091.1H528.6M536.75,796.8V1074.1M531.25,796.8H542.25M531.25,1074.1H542.25M550.4,783.9V1056.2M544.9,783.9H555.9M544.9,1056.2H555.9M564.05,771.9V1040.3M558.55,771.9H569.55M558.55,1040.3H569.55M577.7,760.2V1025.5M572.2,760.2H583.2M572.2,1025.5H583.2M591.35,746.8V1008.8M585.85,746.8H596.85M585.85,1008.8H596.85M605,734.2V994.2M599.5,734.2H610.5M599.5,994.2H610.5M618.65,727.3V986.8M613.15,727.3H624.15M613.15,986.8H624.15M632.3,726.1V983.3M626.8,726.1H637.8M626.8,983.3H637.8M645.95,727.9V983.3M640.45,727.9H651.45M640.45,983.3H651.45" stroke="#c4c4c4" stroke-width="1.4" fill="none"/>
<line x1="358.7" y1="707.9" x2="358.7" y2="1195.7" stroke="#111" stroke-width="1.3" stroke-dasharray="4,3"/>
<line x1="645.5" y1="707.9" x2="645.5" y2="1195.7" stroke="#111" stroke-width="1.3" stroke-dasharray="4,3"/>
<circle cx="140.9" cy="1002.6" r="3.3" fill="#d02424"/>
<circle cx="154.55" cy="999" r="3.3" fill="#d02424"/>
<circle cx="168.2" cy="999" r="3.3" fill="#d02424"/>
<circle cx="181.85" cy="998.2" r="3.3" fill="#d02424"/>
<circle cx="195.5" cy="999.4" r="3.3" fill="#d02424"/>
<circle cx="209.15" cy="1002.2" r="3.3" fill="#d02424"/>
<circle cx="222.8" cy="1006" r="3.3" fill="#d02424"/>
<circle cx="236.45" cy="1009.6" r="3.3" fill="#d02424"/>
<circle cx="250.1" cy="1011.6" r="3.3" fill="#d02424"/>
<circle cx="263.75" cy="1012.8" r="3.3" fill="#d02424"/>
<circle cx="277.4" cy="1013" r="3.3" fill="#d02424"/>
<circle cx="291.05" cy="1012.8" r="3.3" fill="#d02424"/>
<circle cx="304.7" cy="1012.6" r="3.3" fill="#d02424"/>
<circle cx="318.35" cy="1012.4" r="3.3" fill="#d02424"/>
<circle cx="332" cy="1013" r="3.3" fill="#d02424"/>
<circle cx="345.65" cy="1014.1" r="3.3" fill="#d02424"/>
<circle cx="359.3" cy="1014.5" r="3.3" fill="#d02424"/>
<circle cx="372.95" cy="1013.9" r="3.3" fill="#d02424"/>
<circle cx="386.6" cy="1012.4" r="3.3" fill="#d02424"/>
<circle cx="400.25" cy="1010.2" r="3.3" fill="#d02424"/>
<circle cx="413.9" cy="1007.8" r="3.3" fill="#d02424"/>
<circle cx="427.55" cy="1004.4" r="3.3" fill="#d02424"/>
<circle cx="441.2" cy="1000.4" r="3.3" fill="#d02424"/>
<circle cx="454.85" cy="995.6" r="3.3" fill="#d02424"/>
<circle cx="468.5" cy="989.6" r="3.3" fill="#d02424"/>
<circle cx="482.15" cy="982.3" r="3.3" fill="#d02424"/>
<circle cx="495.8" cy="973.7" r="3.3" fill="#d02424"/>
<circle cx="509.45" cy="963.1" r="3.3" fill="#d02424"/>
<circle cx="523.1" cy="950" r="3.3" fill="#d02424"/>
<circle cx="536.75" cy="935.6" r="3.3" fill="#d02424"/>
<circle cx="550.4" cy="920.2" r="3.3" fill="#d02424"/>
<circle cx="564.05" cy="906.3" r="3.3" fill="#d02424"/>
<circle cx="577.7" cy="892.9" r="3.3" fill="#d02424"/>
<circle cx="591.35" cy="877.8" r="3.3" fill="#d02424"/>
<circle cx="605" cy="864.4" r="3.3" fill="#d02424"/>
<circle cx="618.65" cy="857" r="3.3" fill="#d02424"/>
<circle cx="632.3" cy="854.6" r="3.3" fill="#d02424"/>
<circle cx="645.95" cy="855.8" r="3.3" fill="#d02424"/>
<rect x="120.4" y="707.9" width="545.2" height="487.8" fill="none" stroke="#333" stroke-width="1.4"/>
<line x1="146.3" y1="1195.7" x2="659.4" y2="1195.7" stroke="#333" stroke-width="1.4" />
<line x1="146.3" y1="1195.7" x2="146.3" y2="1206.1" stroke="#333" stroke-width="1.4" />
<text x="146.3" y="1230.5" font-size="17.59" text-anchor="middle" fill="#111" textLength="30" lengthAdjust="spacingAndGlyphs" >−5.5</text>
<line x1="219.6" y1="1195.7" x2="219.6" y2="1206.1" stroke="#333" stroke-width="1.4" />
<text x="219.6" y="1230.5" font-size="17.59" text-anchor="middle" fill="#111" textLength="30" lengthAdjust="spacingAndGlyphs" >−5.0</text>
<line x1="292.9" y1="1195.7" x2="292.9" y2="1206.1" stroke="#333" stroke-width="1.4" />
<text x="292.9" y="1230.5" font-size="17.59" text-anchor="middle" fill="#111" textLength="30" lengthAdjust="spacingAndGlyphs" >−4.5</text>
<line x1="366.2" y1="1195.7" x2="366.2" y2="1206.1" stroke="#333" stroke-width="1.4" />
<text x="366.2" y="1230.5" font-size="17.59" text-anchor="middle" fill="#111" textLength="30" lengthAdjust="spacingAndGlyphs" >−4.0</text>
<line x1="439.5" y1="1195.7" x2="439.5" y2="1206.1" stroke="#333" stroke-width="1.4" />
<text x="439.5" y="1230.5" font-size="17.59" text-anchor="middle" fill="#111" textLength="30" lengthAdjust="spacingAndGlyphs" >−3.5</text>
<line x1="512.8" y1="1195.7" x2="512.8" y2="1206.1" stroke="#333" stroke-width="1.4" />
<text x="512.8" y="1230.5" font-size="17.59" text-anchor="middle" fill="#111" textLength="30" lengthAdjust="spacingAndGlyphs" >−3.0</text>
<line x1="586.1" y1="1195.7" x2="586.1" y2="1206.1" stroke="#333" stroke-width="1.4" />
<text x="586.1" y="1230.5" font-size="17.59" text-anchor="middle" fill="#111" textLength="30" lengthAdjust="spacingAndGlyphs" >−2.5</text>
<line x1="659.4" y1="1195.7" x2="659.4" y2="1206.1" stroke="#333" stroke-width="1.4" />
<text x="659.4" y="1230.5" font-size="17.59" text-anchor="middle" fill="#111" textLength="30" lengthAdjust="spacingAndGlyphs" >−2.0</text>
<line x1="120.4" y1="1132.9" x2="120.4" y2="730.9" stroke="#333" stroke-width="1.4" />
<line x1="110.6" y1="1132.9" x2="120.4" y2="1132.9" stroke="#333" stroke-width="1.4" />
<text x="98.6" y="1132.9" font-size="17.59" text-anchor="middle" fill="#111" textLength="21.5" lengthAdjust="spacingAndGlyphs" transform="rotate(-90 98.6 1132.9)" >9.2</text>
<line x1="110.6" y1="1065.9" x2="120.4" y2="1065.9" stroke="#333" stroke-width="1.4" />
<text x="98.6" y="1065.9" font-size="17.59" text-anchor="middle" fill="#111" textLength="21.5" lengthAdjust="spacingAndGlyphs" transform="rotate(-90 98.6 1065.9)" >9.4</text>
<line x1="110.6" y1="998.9" x2="120.4" y2="998.9" stroke="#333" stroke-width="1.4" />
<text x="98.6" y="998.9" font-size="17.59" text-anchor="middle" fill="#111" textLength="21.5" lengthAdjust="spacingAndGlyphs" transform="rotate(-90 98.6 998.9)" >9.6</text>
<line x1="110.6" y1="931.9" x2="120.4" y2="931.9" stroke="#333" stroke-width="1.4" />
<text x="98.6" y="931.9" font-size="17.59" text-anchor="middle" fill="#111" textLength="21.5" lengthAdjust="spacingAndGlyphs" transform="rotate(-90 98.6 931.9)" >9.8</text>
<line x1="110.6" y1="864.9" x2="120.4" y2="864.9" stroke="#333" stroke-width="1.4" />
<text x="98.6" y="864.9" font-size="17.59" text-anchor="middle" fill="#111" textLength="29" lengthAdjust="spacingAndGlyphs" transform="rotate(-90 98.6 864.9)" >10.0</text>
<line x1="110.6" y1="797.9" x2="120.4" y2="797.9" stroke="#333" stroke-width="1.4" />
<text x="98.6" y="797.9" font-size="17.59" text-anchor="middle" fill="#111" textLength="29" lengthAdjust="spacingAndGlyphs" transform="rotate(-90 98.6 797.9)" >10.2</text>
<line x1="110.6" y1="730.9" x2="120.4" y2="730.9" stroke="#333" stroke-width="1.4" />
<text x="98.6" y="730.9" font-size="17.59" text-anchor="middle" fill="#111" textLength="29" lengthAdjust="spacingAndGlyphs" transform="rotate(-90 98.6 730.9)" >10.4</text>
<text x="60.5" y="952.7" font-size="17.82" text-anchor="middle" fill="#111" textLength="187.6" lengthAdjust="spacingAndGlyphs" transform="rotate(-90 60.5 952.7)" >Partial Likelihood Deviance</text>
<text x="392.7" y="1265.5" font-size="17.82" text-anchor="middle" fill="#111" textLength="46.4" lengthAdjust="spacingAndGlyphs" >Log(λ)</text>
<text x="140.9" y="685.8" font-size="16.69" text-anchor="middle" fill="#111" textLength="8.2" lengthAdjust="spacingAndGlyphs" >9</text>
<text x="168.2" y="685.8" font-size="16.69" text-anchor="middle" fill="#111" textLength="8.2" lengthAdjust="spacingAndGlyphs" >9</text>
<text x="195.5" y="685.8" font-size="16.69" text-anchor="middle" fill="#111" textLength="8.2" lengthAdjust="spacingAndGlyphs" >8</text>
<text x="222.8" y="685.8" font-size="16.69" text-anchor="middle" fill="#111" textLength="8.2" lengthAdjust="spacingAndGlyphs" >8</text>
<text x="250.1" y="685.8" font-size="16.69" text-anchor="middle" fill="#111" textLength="8.2" lengthAdjust="spacingAndGlyphs" >8</text>
<text x="277.4" y="685.8" font-size="16.69" text-anchor="middle" fill="#111" textLength="8.2" lengthAdjust="spacingAndGlyphs" >7</text>
<text x="304.7" y="685.8" font-size="16.69" text-anchor="middle" fill="#111" textLength="8.2" lengthAdjust="spacingAndGlyphs" >6</text>
<text x="332" y="685.8" font-size="16.69" text-anchor="middle" fill="#111" textLength="8.2" lengthAdjust="spacingAndGlyphs" >5</text>
<text x="359.3" y="685.8" font-size="16.69" text-anchor="middle" fill="#111" textLength="8.2" lengthAdjust="spacingAndGlyphs" >5</text>
<text x="386.6" y="685.8" font-size="16.69" text-anchor="middle" fill="#111" textLength="8.2" lengthAdjust="spacingAndGlyphs" >5</text>
<text x="413.9" y="685.8" font-size="16.69" text-anchor="middle" fill="#111" textLength="8.2" lengthAdjust="spacingAndGlyphs" >5</text>
<text x="441.2" y="685.8" font-size="16.69" text-anchor="middle" fill="#111" textLength="8.2" lengthAdjust="spacingAndGlyphs" >5</text>
<text x="468.5" y="685.8" font-size="16.69" text-anchor="middle" fill="#111" textLength="8.2" lengthAdjust="spacingAndGlyphs" >5</text>
<text x="495.8" y="685.8" font-size="16.69" text-anchor="middle" fill="#111" textLength="8.2" lengthAdjust="spacingAndGlyphs" >5</text>
<text x="523.1" y="685.8" font-size="16.69" text-anchor="middle" fill="#111" textLength="8.2" lengthAdjust="spacingAndGlyphs" >5</text>
<text x="550.4" y="685.8" font-size="16.69" text-anchor="middle" fill="#111" textLength="8.2" lengthAdjust="spacingAndGlyphs" >5</text>
<text x="577.7" y="685.8" font-size="16.69" text-anchor="middle" fill="#111" textLength="8.2" lengthAdjust="spacingAndGlyphs" >5</text>
<text x="605" y="685.8" font-size="16.69" text-anchor="middle" fill="#111" textLength="8.2" lengthAdjust="spacingAndGlyphs" >5</text>
<text x="632.3" y="685.8" font-size="16.69" text-anchor="middle" fill="#111" textLength="8.2" lengthAdjust="spacingAndGlyphs" >1</text>
<text x="754" y="685.9" font-size="34" text-anchor="start" fill="#2a2a2a" font-family='"Liberation Serif", serif' >D</text>
<polyline points="876.7,991.2 890.36,991.2 904.02,991.2 917.68,991.2 931.34,991.2 945,991.2 958.66,991.2 972.32,991.2 985.98,991.2 999.64,991.2 1013.3,991.2 1026.96,991.2 1040.62,996.49 1054.28,991.25 1067.94,991.2 1081.6,991.2 1095.26,991.2 1108.92,991.2 1122.58,991.2 1136.24,991.2 1149.9,991.2 1163.56,991.2 1177.22,991.2 1190.88,991.2 1204.54,991.2 1218.2,991.2 1231.86,991.2 1245.52,991.2 1259.18,991.2 1272.84,991.2 1286.5,991.2 1300.16,991.2 1313.82,991.2 1327.48,991.2 1341.14,991.2 1354.8,991.2 1368.46,991.2 1382.12,991.2" fill="none" stroke="#6ccad8" stroke-width="1.4" stroke-linejoin="round" />
<polyline points="876.7,946 890.36,957.19 904.02,970.43 917.68,986.93 931.34,990.7 945,989.76 958.66,988.82 972.32,988.31 985.98,987.82 999.64,988.2 1013.3,990.7 1026.96,990.7 1040.62,990.7 1054.28,990.7 1067.94,990.7 1081.6,990.7 1095.26,990.7 1108.92,990.7 1122.58,990.7 1136.24,990.7 1149.9,990.7 1163.56,990.7 1177.22,990.7 1190.88,990.7 1204.54,990.7 1218.2,990.7 1231.86,990.7 1245.52,990.7 1259.18,990.7 1272.84,990.7 1286.5,990.7 1300.16,990.7 1313.82,990.7 1327.48,990.7 1341.14,990.7 1354.8,990.7 1368.46,990.7 1382.12,990.7" fill="none" stroke="#8cc55f" stroke-width="1.5" stroke-linejoin="round" />
<polyline points="876.7,962 890.36,962 904.02,962 917.68,962 931.34,966.28 945,970.64 958.66,974.33 972.32,978.07 985.98,983.65 999.64,989.23 1013.3,991.3 1026.96,991.3 1040.62,991.3 1054.28,991.3 1067.94,991.3 1081.6,991.3 1095.26,991.3 1108.92,991.3 1122.58,991.3 1136.24,991.3 1149.9,991.3 1163.56,991.3 1177.22,991.3 1190.88,991.3 1204.54,991.3 1218.2,991.3 1231.86,991.3 1245.52,991.3 1259.18,991.3 1272.84,991.3 1286.5,991.3 1300.16,991.3 1313.82,991.3 1327.48,991.3 1341.14,991.3 1354.8,991.3 1368.46,991.3 1382.12,991.3" fill="none" stroke="#5a9ae0" stroke-width="1.5" stroke-linejoin="round" />
<polyline points="876.7,1050.1 890.36,1046.22 904.02,1042.34 917.68,1038.46 931.34,1034.21 945,1029.96 958.66,1025.71 972.32,1020.63 985.98,1015.17 999.64,1009.72 1013.3,1004.26 1026.96,998.62 1040.62,990.7 1054.28,990.7 1067.94,990.7 1081.6,990.7 1095.26,990.7 1108.92,990.7 1122.58,990.7 1136.24,990.7 1149.9,990.7 1163.56,990.7 1177.22,990.7 1190.88,990.7 1204.54,990.7 1218.2,990.7 1231.86,990.7 1245.52,990.7 1259.18,990.7 1272.84,990.7 1286.5,990.7 1300.16,990.7 1313.82,990.7 1327.48,990.7 1341.14,990.7 1354.8,990.7 1368.46,990.7 1382.12,990.7" fill="none" stroke="#aa46b0" stroke-width="1.6" stroke-linejoin="round" />
<polyline points="876.7,1124.3 890.36,1086.78 904.02,1049.27 917.68,1011.11 931.34,991.3 945,991.3 958.66,991.3 972.32,991.3 985.98,991.3 999.64,991.3 1013.3,991.3 1026.96,991.3 1040.62,991.3 1054.28,991.3 1067.94,991.3 1081.6,991.3 1095.26,991.3 1108.92,991.3 1122.58,991.3 1136.24,991.3 1149.9,991.3 1163.56,991.3 1177.22,991.3 1190.88,991.3 1204.54,991.3 1218.2,991.3 1231.86,991.3 1245.52,991.3 1259.18,991.3 1272.84,991.3 1286.5,991.3 1300.16,991.3 1313.82,991.3 1327.48,991.3 1341.14,991.3 1354.8,991.3 1368.46,991.3 1382.12,991.3" fill="none" stroke="#5a9ae0" stroke-width="1.6" stroke-linejoin="round" />
<polyline points="876.7,990.2 890.36,990.2 904.02,990.2 917.68,990.2 931.34,990.2 945,990.2 958.66,990.2 972.32,990.2 985.98,990.2 999.64,990.2 1013.3,990.2 1026.96,990.2 1040.62,990.2 1054.28,990.2 1067.94,990.2 1081.6,990.2 1095.26,990.2 1108.92,990.2 1122.58,990.2 1136.24,990.2 1149.9,990.2 1163.56,990.2 1177.22,990.2 1190.88,990.2 1204.54,990.2 1218.2,990.2 1231.86,990.2 1245.52,990.2 1259.18,990.2 1272.84,990.2 1286.5,990.2 1300.16,990.2 1313.82,990.2 1327.48,990.2 1341.14,990.2 1354.8,990.2 1368.46,990.2 1382.12,990.2" fill="none" stroke="#d9607a" stroke-width="1.3" stroke-linejoin="round" />
<polyline points="876.7,890.37 890.36,892.42 904.02,894.25 917.68,895.9 931.34,897.39 945,898.75 958.66,899.99 972.32,901.16 985.98,902.26 999.64,903.34 1013.3,904.41 1026.96,905.5 1040.62,906.64 1054.28,907.86 1067.94,909.18 1081.6,910.62 1095.26,912.21 1108.92,913.99 1122.58,915.97 1136.24,918.18 1149.9,920.64 1163.56,923.39 1177.22,926.45 1190.88,929.82 1204.54,933.49 1218.2,937.49 1231.86,941.79 1245.52,946.42 1259.18,951.36 1272.84,956.62 1286.5,962.2 1300.16,968.07 1313.82,974.14 1327.48,980.3 1341.14,986.42 1354.8,990.7 1368.46,990.7 1382.12,990.7" fill="none" stroke="#111" stroke-width="1.8" stroke-linejoin="round" />
<polyline points="876.7,1160.28 890.36,1158.48 904.02,1156.65 917.68,1154.79 931.34,1152.88 945,1150.91 958.66,1148.88 972.32,1146.76 985.98,1144.55 999.64,1142.23 1013.3,1139.8 1026.96,1137.24 1040.62,1134.55 1054.28,1131.7 1067.94,1128.69 1081.6,1125.51 1095.26,1122.14 1108.92,1118.58 1122.58,1114.81 1136.24,1110.82 1149.9,1106.6 1163.56,1102.14 1177.22,1097.42 1190.88,1092.44 1204.54,1087.18 1218.2,1081.63 1231.86,1075.79 1245.52,1069.63 1259.18,1063.15 1272.84,1056.33 1286.5,1049.17 1300.16,1041.65 1313.82,1033.77 1327.48,1025.5 1341.14,1016.84 1354.8,1007.78 1368.46,998.3 1382.12,990.7" fill="none" stroke="#111" stroke-width="1.9" stroke-linejoin="round" />
<polyline points="876.7,722.3 890.36,742.89 904.02,763.67 917.68,789.48 931.34,806.6 945,807.78 958.66,808.68 972.32,808.88 985.98,808.22 999.64,804.35 1013.3,809.99 1026.96,822.86 1040.62,839.95 1054.28,843.66 1067.94,846.75 1081.6,849.34 1095.26,851.54 1108.92,853.47 1122.58,855.25 1136.24,856.98 1149.9,858.79 1163.56,860.78 1177.22,863.09 1190.88,865.81 1204.54,869.07 1218.2,873.01 1231.86,877.78 1245.52,883.51 1259.18,890.36 1272.84,898.46 1286.5,907.96 1300.16,919 1313.82,931.74 1327.48,946.3 1341.14,962.84 1354.8,990.7 1368.46,990.7 1382.12,990.7" fill="none" stroke="#d9607a" stroke-width="1.6" stroke-linejoin="round" />
<polyline points="876.7,706.48 890.36,708.8 904.02,711.69 917.68,715.09 931.34,718.91 945,723.09 958.66,727.56 972.32,732.24 985.98,737.07 999.64,741.96 1013.3,746.85 1026.96,751.67 1040.62,756.34 1054.28,760.82 1067.94,765.17 1081.6,769.49 1095.26,773.87 1108.92,778.37 1122.58,783.11 1136.24,788.15 1149.9,793.6 1163.56,799.53 1177.22,806.04 1190.88,813.2 1204.54,821.12 1218.2,829.87 1231.86,839.55 1245.52,850.23 1259.18,862.02 1272.84,874.99 1286.5,889.23 1300.16,904.83 1313.82,921.88 1327.48,940.46 1341.14,960.66 1354.8,982.57 1368.46,990.7 1382.12,990.7" fill="none" stroke="#8cc55f" stroke-width="1.6" stroke-linejoin="round" />
<rect x="856.5" y="689.5" width="545.5" height="488" fill="none" stroke="#333" stroke-width="1.4"/>
<line x1="882.7" y1="1177.5" x2="882.7" y2="1187.8" stroke="#333" stroke-width="1.4" />
<line x1="882.7" y1="689.5" x2="882.7" y2="684.3" stroke="#333" stroke-width="1.4" />
<text x="882.7" y="1212.6" font-size="17.59" text-anchor="middle" fill="#111" textLength="30" lengthAdjust="spacingAndGlyphs" >−5.5</text>
<line x1="956" y1="1177.5" x2="956" y2="1187.8" stroke="#333" stroke-width="1.4" />
<line x1="956" y1="689.5" x2="956" y2="684.3" stroke="#333" stroke-width="1.4" />
<text x="956" y="1212.6" font-size="17.59" text-anchor="middle" fill="#111" textLength="30" lengthAdjust="spacingAndGlyphs" >−5.0</text>
<line x1="1029.3" y1="1177.5" x2="1029.3" y2="1187.8" stroke="#333" stroke-width="1.4" />
<line x1="1029.3" y1="689.5" x2="1029.3" y2="684.3" stroke="#333" stroke-width="1.4" />
<text x="1029.3" y="1212.6" font-size="17.59" text-anchor="middle" fill="#111" textLength="30" lengthAdjust="spacingAndGlyphs" >−4.5</text>
<line x1="1102.6" y1="1177.5" x2="1102.6" y2="1187.8" stroke="#333" stroke-width="1.4" />
<line x1="1102.6" y1="689.5" x2="1102.6" y2="684.3" stroke="#333" stroke-width="1.4" />
<text x="1102.6" y="1212.6" font-size="17.59" text-anchor="middle" fill="#111" textLength="30" lengthAdjust="spacingAndGlyphs" >−4.0</text>
<line x1="1175.9" y1="1177.5" x2="1175.9" y2="1187.8" stroke="#333" stroke-width="1.4" />
<line x1="1175.9" y1="689.5" x2="1175.9" y2="684.3" stroke="#333" stroke-width="1.4" />
<text x="1175.9" y="1212.6" font-size="17.59" text-anchor="middle" fill="#111" textLength="30" lengthAdjust="spacingAndGlyphs" >−3.5</text>
<line x1="1249.2" y1="1177.5" x2="1249.2" y2="1187.8" stroke="#333" stroke-width="1.4" />
<line x1="1249.2" y1="689.5" x2="1249.2" y2="684.3" stroke="#333" stroke-width="1.4" />
<text x="1249.2" y="1212.6" font-size="17.59" text-anchor="middle" fill="#111" textLength="30" lengthAdjust="spacingAndGlyphs" >−3.0</text>
<line x1="1322.5" y1="1177.5" x2="1322.5" y2="1187.8" stroke="#333" stroke-width="1.4" />
<line x1="1322.5" y1="689.5" x2="1322.5" y2="684.3" stroke="#333" stroke-width="1.4" />
<text x="1322.5" y="1212.6" font-size="17.59" text-anchor="middle" fill="#111" textLength="30" lengthAdjust="spacingAndGlyphs" >−2.5</text>
<line x1="1395.8" y1="1177.5" x2="1395.8" y2="1187.8" stroke="#333" stroke-width="1.4" />
<line x1="1395.8" y1="689.5" x2="1395.8" y2="684.3" stroke="#333" stroke-width="1.4" />
<text x="1395.8" y="1212.6" font-size="17.59" text-anchor="middle" fill="#111" textLength="30" lengthAdjust="spacingAndGlyphs" >−2.0</text>
<text x="882.7" y="667.3" font-size="15.66" text-anchor="middle" fill="#111" textLength="8" lengthAdjust="spacingAndGlyphs" >9</text>
<text x="956" y="667.3" font-size="15.66" text-anchor="middle" fill="#111" textLength="8" lengthAdjust="spacingAndGlyphs" >8</text>
<text x="1029.3" y="667.3" font-size="15.66" text-anchor="middle" fill="#111" textLength="8" lengthAdjust="spacingAndGlyphs" >6</text>
<text x="1102.6" y="667.3" font-size="15.66" text-anchor="middle" fill="#111" textLength="8" lengthAdjust="spacingAndGlyphs" >5</text>
<text x="1175.9" y="667.3" font-size="15.66" text-anchor="middle" fill="#111" textLength="8" lengthAdjust="spacingAndGlyphs" >5</text>
<text x="1249.2" y="667.3" font-size="15.66" text-anchor="middle" fill="#111" textLength="8" lengthAdjust="spacingAndGlyphs" >5</text>
<text x="1322.5" y="667.3" font-size="15.66" text-anchor="middle" fill="#111" textLength="8" lengthAdjust="spacingAndGlyphs" >5</text>
<text x="1395.8" y="667.3" font-size="15.66" text-anchor="middle" fill="#111" textLength="8" lengthAdjust="spacingAndGlyphs" >0</text>
<line x1="846.9" y1="1094" x2="856.5" y2="1094" stroke="#333" stroke-width="1.4" />
<text x="834.4" y="1094" font-size="16.07" text-anchor="middle" fill="#111" textLength="30" lengthAdjust="spacingAndGlyphs" transform="rotate(-90 834.4 1094)" >−0.5</text>
<line x1="846.9" y1="990.7" x2="856.5" y2="990.7" stroke="#333" stroke-width="1.4" />
<text x="834.4" y="990.7" font-size="16.07" text-anchor="middle" fill="#111" textLength="21.5" lengthAdjust="spacingAndGlyphs" transform="rotate(-90 834.4 990.7)" >0.0</text>
<line x1="846.9" y1="887.4" x2="856.5" y2="887.4" stroke="#333" stroke-width="1.4" />
<text x="834.4" y="887.4" font-size="16.07" text-anchor="middle" fill="#111" textLength="21.5" lengthAdjust="spacingAndGlyphs" transform="rotate(-90 834.4 887.4)" >0.5</text>
<line x1="846.9" y1="784.1" x2="856.5" y2="784.1" stroke="#333" stroke-width="1.4" />
<text x="834.4" y="784.1" font-size="16.07" text-anchor="middle" fill="#111" textLength="21.5" lengthAdjust="spacingAndGlyphs" transform="rotate(-90 834.4 784.1)" >1.0</text>
<text x="796.5" y="933" font-size="17.59" text-anchor="middle" fill="#111" textLength="79" lengthAdjust="spacingAndGlyphs" transform="rotate(-90 796.5 933)" >Coefficients</text>
<text x="1129" y="1249.7" font-size="17.59" text-anchor="middle" fill="#111" textLength="86" lengthAdjust="spacingAndGlyphs" >Log Lambda</text>
<text x="867.5" y="710" font-size="8.6" text-anchor="end" fill="#222" >3</text>
<text x="867.5" y="724.9" font-size="8.6" text-anchor="end" fill="#222" >2</text>
<text x="867.5" y="893.9" font-size="8.6" text-anchor="end" fill="#222" >7</text>
<text x="867.5" y="948.5" font-size="8.6" text-anchor="end" fill="#222" >10</text>
<text x="867.5" y="965" font-size="8.6" text-anchor="end" fill="#222" >4</text>
<text x="867.5" y="993.7" font-size="8.6" text-anchor="end" fill="#222" >9</text>
<text x="867.5" y="1052.8" font-size="8.6" text-anchor="end" fill="#222" >6</text>
<text x="867.5" y="1126.8" font-size="8.6" text-anchor="end" fill="#222" >11</text>
<text x="867.5" y="1162.8" font-size="8.6" text-anchor="end" fill="#222" >1</text>
<text x="18" y="1303.5" font-size="34" text-anchor="start" fill="#2a2a2a" font-family='"Liberation Serif", serif' >E</text>
<circle cx="299.6" cy="1305.7" r="3.6" fill="#5b95d4"/>
<text x="313.7" y="1310.9" font-size="14.4" text-anchor="start" fill="#111" textLength="53" lengthAdjust="spacingAndGlyphs" >Low risk</text>
<circle cx="384.1" cy="1305.7" r="3.6" fill="#c64d67"/>
<text x="398.2" y="1310.9" font-size="14.4" text-anchor="start" fill="#111" textLength="56.5" lengthAdjust="spacingAndGlyphs" >High risk</text>
<path d="M183.8,1726.48H452.3M213.6,1704.96H482.1M243.4,1683.44H511.9M273.2,1661.92H541.7M198.75,1748L347.75,1640.4M243.5,1748L392.5,1640.4M288.25,1748L437.25,1640.4M333,1748L482,1640.4M377.75,1748L526.75,1640.4" stroke="#d2d2d2" stroke-width="1.1" fill="none"/>
<path d="M303,1381.7H571.5V1640.4H303ZM154,1489.3L303,1381.7M422.5,1489.3L571.5,1381.7M154,1748L303,1640.4M422.5,1748L571.5,1640.4" stroke="#1a1a1a" stroke-width="1.5" fill="none"/>
<g><circle cx="371.3" cy="1402.7" r="3.6" fill="#5b95d4"/><circle cx="442.9" cy="1471" r="3.6" fill="#5b95d4"/><circle cx="466" cy="1485.3" r="3.6" fill="#c64d67"/><circle cx="476.5" cy="1505.7" r="3.6" fill="#c64d67"/><circle cx="377.8" cy="1501.2" r="3.6" fill="#c64d67"/><circle cx="266.4" cy="1504.7" r="3.6" fill="#5b95d4"/><circle cx="427.9" cy="1502.6" r="3.6" fill="#5b95d4"/><circle cx="436.7" cy="1508.9" r="3.6" fill="#c64d67"/><circle cx="460.2" cy="1518" r="3.6" fill="#5b95d4"/><circle cx="442.3" cy="1519.9" r="3.6" fill="#c64d67"/><circle cx="300.8" cy="1528.8" r="3.6" fill="#5b95d4"/><circle cx="412.1" cy="1524.7" r="3.6" fill="#5b95d4"/><circle cx="417.3" cy="1530.5" r="3.6" fill="#5b95d4"/><circle cx="423" cy="1530.5" r="3.6" fill="#c64d67"/><circle cx="429.8" cy="1523.8" r="3.6" fill="#c64d67"/><circle cx="437.1" cy="1528.2" r="3.6" fill="#5b95d4"/><circle cx="414" cy="1535" r="3.6" fill="#c64d67"/><circle cx="416.9" cy="1535" r="3.6" fill="#c64d67"/><circle cx="432.9" cy="1538.8" r="3.6" fill="#5b95d4"/><circle cx="451" cy="1539.4" r="3.6" fill="#c64d67"/><circle cx="464.4" cy="1536.9" r="3.6" fill="#5b95d4"/><circle cx="406.3" cy="1540.7" r="3.6" fill="#c64d67"/><circle cx="229.2" cy="1555.1" r="3.6" fill="#c64d67"/><circle cx="285" cy="1550.3" r="3.6" fill="#c64d67"/><circle cx="272.5" cy="1560.3" r="3.6" fill="#c64d67"/><circle cx="362" cy="1551.3" r="3.6" fill="#c64d67"/><circle cx="380" cy="1550.7" r="3.6" fill="#c64d67"/><circle cx="393.4" cy="1549.7" r="3.6" fill="#c64d67"/><circle cx="388.6" cy="1555.1" r="3.6" fill="#c64d67"/><circle cx="392.8" cy="1553.6" r="3.6" fill="#5b95d4"/><circle cx="415.5" cy="1553.6" r="3.6" fill="#c64d67"/><circle cx="455.4" cy="1554.2" r="3.6" fill="#c64d67"/><circle cx="393.8" cy="1560.9" r="3.6" fill="#5b95d4"/><circle cx="410.7" cy="1560.5" r="3.6" fill="#5b95d4"/><circle cx="413" cy="1559" r="3.6" fill="#c64d67"/><circle cx="414" cy="1567.6" r="3.6" fill="#c64d67"/><circle cx="426.5" cy="1565.7" r="3.6" fill="#c64d67"/><circle cx="348.6" cy="1568.6" r="3.6" fill="#c64d67"/><circle cx="369.7" cy="1571.5" r="3.6" fill="#5b95d4"/><circle cx="388.6" cy="1572.5" r="3.6" fill="#5b95d4"/><circle cx="396.7" cy="1574.4" r="3.6" fill="#5b95d4"/><circle cx="396.7" cy="1575.7" r="3.6" fill="#c64d67"/><circle cx="389.6" cy="1576.9" r="3.6" fill="#c64d67"/><circle cx="412.1" cy="1573.4" r="3.6" fill="#5b95d4"/><circle cx="420.4" cy="1574.4" r="3.6" fill="#5b95d4"/><circle cx="444.8" cy="1571.9" r="3.6" fill="#5b95d4"/><circle cx="469.2" cy="1569.6" r="3.6" fill="#5b95d4"/><circle cx="266.4" cy="1576.3" r="3.6" fill="#5b95d4"/><circle cx="295.3" cy="1582.5" r="3.6" fill="#5b95d4"/><circle cx="300.5" cy="1606.6" r="3.6" fill="#c64d67"/><circle cx="272.5" cy="1624.9" r="3.6" fill="#c64d67"/><circle cx="411.7" cy="1577.9" r="3.6" fill="#c64d67"/><circle cx="371.7" cy="1581.6" r="3.6" fill="#c64d67"/><circle cx="375.9" cy="1579.8" r="3.6" fill="#5b95d4"/><circle cx="402.5" cy="1579.8" r="3.6" fill="#5b95d4"/><circle cx="414.4" cy="1583.5" r="3.6" fill="#5b95d4"/><circle cx="418.4" cy="1584.6" r="3.6" fill="#c64d67"/><circle cx="430.4" cy="1584.6" r="3.6" fill="#5b95d4"/><circle cx="349.1" cy="1587.3" r="3.6" fill="#c64d67"/><circle cx="358.8" cy="1586" r="3.6" fill="#c64d67"/><circle cx="372.6" cy="1587.3" r="3.6" fill="#c64d67"/><circle cx="401.1" cy="1587.3" r="3.6" fill="#5b95d4"/><circle cx="356.6" cy="1593.1" r="3.6" fill="#c64d67"/><circle cx="364.5" cy="1591.8" r="3.6" fill="#5b95d4"/><circle cx="374.6" cy="1592.3" r="3.6" fill="#c64d67"/><circle cx="415.4" cy="1593.1" r="3.6" fill="#c64d67"/><circle cx="415.5" cy="1596" r="3.6" fill="#c64d67"/><circle cx="413" cy="1597.9" r="3.6" fill="#5b95d4"/><circle cx="433.2" cy="1596" r="3.6" fill="#5b95d4"/><circle cx="438.6" cy="1594.6" r="3.6" fill="#5b95d4"/><circle cx="439.4" cy="1596.6" r="3.6" fill="#5b95d4"/><circle cx="448.6" cy="1596.2" r="3.6" fill="#5b95d4"/><circle cx="456" cy="1587.9" r="3.6" fill="#5b95d4"/><circle cx="455.4" cy="1589.8" r="3.6" fill="#5b95d4"/><circle cx="432.3" cy="1598.9" r="3.6" fill="#5b95d4"/><circle cx="397.6" cy="1598.9" r="3.6" fill="#5b95d4"/><circle cx="404.4" cy="1600" r="3.6" fill="#c64d67"/><circle cx="375.9" cy="1601" r="3.6" fill="#c64d67"/><circle cx="390.3" cy="1602.3" r="3.6" fill="#c64d67"/><circle cx="396.3" cy="1602" r="3.6" fill="#c64d67"/><circle cx="409.8" cy="1602.7" r="3.6" fill="#5b95d4"/><circle cx="361.1" cy="1603.7" r="3.6" fill="#5b95d4"/><circle cx="378.4" cy="1605.2" r="3.6" fill="#5b95d4"/><circle cx="416.3" cy="1606.2" r="3.6" fill="#5b95d4"/><circle cx="417.8" cy="1611" r="3.6" fill="#5b95d4"/><circle cx="390.3" cy="1610.6" r="3.6" fill="#c64d67"/><circle cx="359.2" cy="1609.7" r="3.6" fill="#c64d67"/><circle cx="353.4" cy="1611" r="3.6" fill="#5b95d4"/><circle cx="364" cy="1615.8" r="3.6" fill="#c64d67"/><circle cx="368.8" cy="1616.2" r="3.6" fill="#5b95d4"/><circle cx="372.6" cy="1618.7" r="3.6" fill="#5b95d4"/><circle cx="384.8" cy="1616.8" r="3.6" fill="#5b95d4"/><circle cx="380.9" cy="1623.5" r="3.6" fill="#c64d67"/><circle cx="352.8" cy="1623.5" r="3.6" fill="#5b95d4"/><circle cx="363.6" cy="1631.2" r="3.6" fill="#c64d67"/><circle cx="375.1" cy="1628.9" r="3.6" fill="#5b95d4"/><circle cx="379.7" cy="1629.3" r="3.6" fill="#5b95d4"/><circle cx="382.2" cy="1634.5" r="3.6" fill="#c64d67"/><circle cx="384.6" cy="1633.5" r="3.6" fill="#c64d67"/><circle cx="393.2" cy="1631.2" r="3.6" fill="#c64d67"/><circle cx="373.2" cy="1642.2" r="3.6" fill="#c64d67"/><circle cx="374" cy="1662" r="3.6" fill="#c64d67"/><circle cx="383.6" cy="1669.3" r="3.6" fill="#c64d67"/></g>
<path d="M154,1489.3H422.5V1748H154Z" stroke="#1a1a1a" stroke-width="1.5" fill="none"/>
<path d="M154,1745.5V1751M198.75,1745.5V1751M243.5,1745.5V1751M288.25,1745.5V1751M333,1745.5V1751M377.75,1745.5V1751M422.5,1745.5V1751M151,1489.3H157M151,1553.97H157M151,1618.65H157M151,1683.33H157M151,1748H157M450.3,1726.48H455.8M480.1,1704.96H485.6M509.9,1683.44H515.4M539.7,1661.92H545.2" stroke="#1a1a1a" stroke-width="1.4" fill="none"/>
<text x="154" y="1767.9" font-size="12" text-anchor="middle" fill="#111" >−200</text>
<text x="198.4" y="1767.9" font-size="12" text-anchor="middle" fill="#111" >−150</text>
<text x="243.3" y="1767.9" font-size="12" text-anchor="middle" fill="#111" >−100</text>
<text x="289.8" y="1767.9" font-size="12" text-anchor="middle" fill="#111" >−50</text>
<text x="337.7" y="1767.9" font-size="12" text-anchor="middle" fill="#111" >0</text>
<text x="381.2" y="1767.9" font-size="12" text-anchor="middle" fill="#111" >50</text>
<text x="424" y="1767.9" font-size="12" text-anchor="middle" fill="#111" >100</text>
<text x="143" y="1486.8" font-size="12" text-anchor="middle" fill="#111" transform="rotate(-90 143 1486.8)" >100</text>
<text x="143" y="1551.47" font-size="12" text-anchor="middle" fill="#111" transform="rotate(-90 143 1551.47)" >50</text>
<text x="143" y="1616.15" font-size="12" text-anchor="middle" fill="#111" transform="rotate(-90 143 1616.15)" >0</text>
<text x="143" y="1680.83" font-size="12" text-anchor="middle" fill="#111" transform="rotate(-90 143 1680.83)" >−50</text>
<text x="143" y="1745.5" font-size="12" text-anchor="middle" fill="#111" transform="rotate(-90 143 1745.5)" >−100</text>
<text x="602.6" y="1642.9" font-size="12" text-anchor="middle" fill="#111" >150</text>
<text x="573.6" y="1665.1" font-size="12" text-anchor="middle" fill="#111" >100</text>
<text x="543.2" y="1686.7" font-size="12" text-anchor="middle" fill="#111" >50</text>
<text x="513.5" y="1708.6" font-size="12" text-anchor="middle" fill="#111" >0</text>
<text x="483.8" y="1729.3" font-size="12" text-anchor="middle" fill="#111" >−50</text>
<text x="454" y="1750.5" font-size="12" text-anchor="middle" fill="#111" >−100</text>
<text x="287.7" y="1803.7" font-size="15" text-anchor="middle" fill="#111" textLength="27.5" lengthAdjust="spacingAndGlyphs" >PC1</text>
<text x="636.5" y="1640" font-size="15" text-anchor="middle" fill="#111" textLength="29.5" lengthAdjust="spacingAndGlyphs" transform="rotate(-90 636.5 1640)" >PC2</text>
<text x="106.3" y="1618.6" font-size="15" text-anchor="middle" fill="#111" textLength="29.5" lengthAdjust="spacingAndGlyphs" transform="rotate(-90 106.3 1618.6)" >PC3</text>
<text x="772" y="1315.4" font-size="34" text-anchor="start" fill="#2a2a2a" font-family='"Liberation Serif", serif' >F</text>
<circle cx="1057" cy="1316.9" r="3.6" fill="#5b95d4"/>
<text x="1071.1" y="1322.1" font-size="14.4" text-anchor="start" fill="#111" textLength="53" lengthAdjust="spacingAndGlyphs" >Low risk</text>
<circle cx="1141.5" cy="1316.9" r="3.6" fill="#c64d67"/>
<text x="1155.6" y="1322.1" font-size="14.4" text-anchor="start" fill="#111" textLength="56.5" lengthAdjust="spacingAndGlyphs" >High risk</text>
<path d="M935.61,1742.41H1193.61M960.23,1725.73H1218.23M984.84,1709.04H1242.84M1009.46,1692.36H1267.46M1034.07,1675.67H1292.07M1058.69,1658.99H1316.69M947.86,1759.1L1120.16,1642.3M984.71,1759.1L1157.01,1642.3M1021.57,1759.1L1193.87,1642.3M1058.43,1759.1L1230.73,1642.3M1095.29,1759.1L1267.59,1642.3M1132.14,1759.1L1304.44,1642.3" stroke="#d2d2d2" stroke-width="1.1" fill="none"/>
<path d="M1083.3,1392.7H1341.3V1642.3H1083.3ZM911,1509.5L1083.3,1392.7M1169,1509.5L1341.3,1392.7M911,1759.1L1083.3,1642.3M1169,1759.1L1341.3,1642.3" stroke="#1a1a1a" stroke-width="1.5" fill="none"/>
<g><circle cx="1048.7" cy="1467.5" r="3.6" fill="#5b95d4"/><circle cx="1179.4" cy="1512.2" r="3.6" fill="#c64d67"/><circle cx="1165.9" cy="1517.6" r="3.6" fill="#c64d67"/><circle cx="1063.5" cy="1523.3" r="3.6" fill="#c64d67"/><circle cx="1105.7" cy="1528.1" r="3.6" fill="#5b95d4"/><circle cx="1120.3" cy="1526.6" r="3.6" fill="#c64d67"/><circle cx="1116" cy="1530.8" r="3.6" fill="#5b95d4"/><circle cx="1185.1" cy="1538.2" r="3.6" fill="#c64d67"/><circle cx="1184.4" cy="1543.3" r="3.6" fill="#5b95d4"/><circle cx="1146.8" cy="1543.9" r="3.6" fill="#5b95d4"/><circle cx="1054.3" cy="1545.8" r="3.6" fill="#c64d67"/><circle cx="1065" cy="1546.2" r="3.6" fill="#c64d67"/><circle cx="1094.7" cy="1545.5" r="3.6" fill="#c64d67"/><circle cx="1104.9" cy="1547.2" r="3.6" fill="#c64d67"/><circle cx="1115.5" cy="1544.3" r="3.6" fill="#c64d67"/><circle cx="1116.8" cy="1549.7" r="3.6" fill="#5b95d4"/><circle cx="1157.8" cy="1550.3" r="3.6" fill="#5b95d4"/><circle cx="1166.9" cy="1554.9" r="3.6" fill="#5b95d4"/><circle cx="1197.7" cy="1556" r="3.6" fill="#5b95d4"/><circle cx="1054.3" cy="1554.1" r="3.6" fill="#5b95d4"/><circle cx="1090.5" cy="1556" r="3.6" fill="#c64d67"/><circle cx="1107.2" cy="1557.4" r="3.6" fill="#c64d67"/><circle cx="1111.6" cy="1554.5" r="3.6" fill="#c64d67"/><circle cx="1124.7" cy="1555.1" r="3.6" fill="#c64d67"/><circle cx="1125.1" cy="1561.6" r="3.6" fill="#5b95d4"/><circle cx="1131.8" cy="1560.7" r="3.6" fill="#c64d67"/><circle cx="1137" cy="1560.7" r="3.6" fill="#5b95d4"/><circle cx="1100.7" cy="1564.1" r="3.6" fill="#5b95d4"/><circle cx="1162" cy="1561.2" r="3.6" fill="#c64d67"/><circle cx="1158.8" cy="1563.2" r="3.6" fill="#5b95d4"/><circle cx="1177.1" cy="1569.3" r="3.6" fill="#c64d67"/><circle cx="1135.7" cy="1569.3" r="3.6" fill="#5b95d4"/><circle cx="1131.8" cy="1572.4" r="3.6" fill="#c64d67"/><circle cx="1134.7" cy="1576.3" r="3.6" fill="#5b95d4"/><circle cx="1132.4" cy="1579" r="3.6" fill="#5b95d4"/><circle cx="1235.8" cy="1572.4" r="3.6" fill="#5b95d4"/><circle cx="1232.5" cy="1576.6" r="3.6" fill="#5b95d4"/><circle cx="1249.2" cy="1577" r="3.6" fill="#c64d67"/><circle cx="1117.8" cy="1575.1" r="3.6" fill="#c64d67"/><circle cx="1094.9" cy="1578.2" r="3.6" fill="#c64d67"/><circle cx="1112.6" cy="1579.5" r="3.6" fill="#5b95d4"/><circle cx="1117.4" cy="1581.5" r="3.6" fill="#c64d67"/><circle cx="1124.1" cy="1581.5" r="3.6" fill="#c64d67"/><circle cx="1129.9" cy="1583.4" r="3.6" fill="#c64d67"/><circle cx="1149.7" cy="1582.8" r="3.6" fill="#c64d67"/><circle cx="1158.2" cy="1586.6" r="3.6" fill="#5b95d4"/><circle cx="1161.1" cy="1585.3" r="3.6" fill="#5b95d4"/><circle cx="1025.4" cy="1581.5" r="3.6" fill="#5b95d4"/><circle cx="1039.5" cy="1582.8" r="3.6" fill="#5b95d4"/><circle cx="1049.5" cy="1589.5" r="3.6" fill="#5b95d4"/><circle cx="1068.3" cy="1594" r="3.6" fill="#c64d67"/><circle cx="1082.4" cy="1595.5" r="3.6" fill="#c64d67"/><circle cx="1107.2" cy="1595.9" r="3.6" fill="#c64d67"/><circle cx="1119.3" cy="1592.6" r="3.6" fill="#5b95d4"/><circle cx="1126.1" cy="1592.6" r="3.6" fill="#c64d67"/><circle cx="1131.8" cy="1591.1" r="3.6" fill="#c64d67"/><circle cx="1131.8" cy="1596.3" r="3.6" fill="#c64d67"/><circle cx="1163.6" cy="1593.4" r="3.6" fill="#c64d67"/><circle cx="1098.7" cy="1600.3" r="3.6" fill="#5b95d4"/><circle cx="1149.5" cy="1600" r="3.6" fill="#5b95d4"/><circle cx="1133.8" cy="1601.9" r="3.6" fill="#c64d67"/><circle cx="1134.7" cy="1603.9" r="3.6" fill="#c64d67"/><circle cx="1146.6" cy="1601.9" r="3.6" fill="#c64d67"/><circle cx="1184.8" cy="1607.3" r="3.6" fill="#5b95d4"/><circle cx="1240.2" cy="1603.9" r="3.6" fill="#c64d67"/><circle cx="1057.7" cy="1609.6" r="3.6" fill="#5b95d4"/><circle cx="1096.8" cy="1611.7" r="3.6" fill="#5b95d4"/><circle cx="1105.8" cy="1611.7" r="3.6" fill="#5b95d4"/><circle cx="1123.7" cy="1608.7" r="3.6" fill="#5b95d4"/><circle cx="1139.1" cy="1609.2" r="3.6" fill="#5b95d4"/><circle cx="1149.2" cy="1613.5" r="3.6" fill="#5b95d4"/><circle cx="1114.9" cy="1615" r="3.6" fill="#c64d67"/><circle cx="1131.3" cy="1615" r="3.6" fill="#c64d67"/><circle cx="1131.8" cy="1619.3" r="3.6" fill="#5b95d4"/><circle cx="1060.6" cy="1617.9" r="3.6" fill="#c64d67"/><circle cx="1058.7" cy="1621.2" r="3.6" fill="#5b95d4"/><circle cx="1049.5" cy="1627.1" r="3.6" fill="#5b95d4"/><circle cx="1079.9" cy="1624.6" r="3.6" fill="#c64d67"/><circle cx="1075.6" cy="1628.9" r="3.6" fill="#c64d67"/><circle cx="1070.6" cy="1629.8" r="3.6" fill="#5b95d4"/><circle cx="1142.4" cy="1623.1" r="3.6" fill="#c64d67"/><circle cx="1145.7" cy="1624.1" r="3.6" fill="#5b95d4"/><circle cx="1113.9" cy="1631" r="3.6" fill="#5b95d4"/><circle cx="1116.8" cy="1633.3" r="3.6" fill="#c64d67"/><circle cx="1129.9" cy="1631.4" r="3.6" fill="#5b95d4"/><circle cx="1135.7" cy="1632" r="3.6" fill="#c64d67"/><circle cx="1207.9" cy="1631.4" r="3.6" fill="#c64d67"/><circle cx="1096.6" cy="1638.1" r="3.6" fill="#5b95d4"/><circle cx="1110.1" cy="1637.5" r="3.6" fill="#5b95d4"/><circle cx="1039.1" cy="1649.7" r="3.6" fill="#5b95d4"/><circle cx="1074.1" cy="1647.2" r="3.6" fill="#5b95d4"/><circle cx="1072.2" cy="1652.5" r="3.6" fill="#5b95d4"/><circle cx="1070.6" cy="1657.9" r="3.6" fill="#5b95d4"/><circle cx="1095.8" cy="1647.4" r="3.6" fill="#5b95d4"/><circle cx="1137" cy="1646.2" r="3.6" fill="#c64d67"/><circle cx="1142.8" cy="1647.7" r="3.6" fill="#c64d67"/><circle cx="1140.9" cy="1652" r="3.6" fill="#c64d67"/><circle cx="1062.5" cy="1665.4" r="3.6" fill="#5b95d4"/><circle cx="1077.4" cy="1672.8" r="3.6" fill="#5b95d4"/><circle cx="1108.7" cy="1682.8" r="3.6" fill="#c64d67"/><circle cx="1176.1" cy="1683.3" r="3.6" fill="#c64d67"/><circle cx="1015.4" cy="1691.4" r="3.6" fill="#5b95d4"/><circle cx="1061" cy="1690.7" r="3.6" fill="#5b95d4"/></g>
<path d="M911,1509.5H1169V1759.1H911Z" stroke="#1a1a1a" stroke-width="1.5" fill="none"/>
<path d="M911,1756.6V1762.1M947.86,1756.6V1762.1M984.71,1756.6V1762.1M1021.57,1756.6V1762.1M1058.43,1756.6V1762.1M1095.29,1756.6V1762.1M1132.14,1756.6V1762.1M1169,1756.6V1762.1M908,1509.5H914M908,1559.42H914M908,1609.34H914M908,1659.26H914M908,1709.18H914M908,1759.1H914M1191.61,1742.41H1197.11M1216.23,1725.73H1221.73M1240.84,1709.04H1246.34M1265.46,1692.36H1270.96M1290.07,1675.67H1295.57M1314.69,1658.99H1320.19" stroke="#1a1a1a" stroke-width="1.4" fill="none"/>
<text x="911" y="1779.5" font-size="12" text-anchor="middle" fill="#111" >−6</text>
<text x="947.9" y="1779.5" font-size="12" text-anchor="middle" fill="#111" >−4</text>
<text x="984.7" y="1779.5" font-size="12" text-anchor="middle" fill="#111" >−2</text>
<text x="1022.6" y="1779.5" font-size="12" text-anchor="middle" fill="#111" >0</text>
<text x="1059.4" y="1779.5" font-size="12" text-anchor="middle" fill="#111" >2</text>
<text x="1096.3" y="1779.5" font-size="12" text-anchor="middle" fill="#111" >4</text>
<text x="1133.1" y="1779.5" font-size="12" text-anchor="middle" fill="#111" >6</text>
<text x="1170" y="1779.5" font-size="12" text-anchor="middle" fill="#111" >8</text>
<text x="899.8" y="1507" font-size="12" text-anchor="middle" fill="#111" transform="rotate(-90 899.8 1507)" >6</text>
<text x="899.8" y="1556.92" font-size="12" text-anchor="middle" fill="#111" transform="rotate(-90 899.8 1556.92)" >4</text>
<text x="899.8" y="1606.84" font-size="12" text-anchor="middle" fill="#111" transform="rotate(-90 899.8 1606.84)" >2</text>
<text x="899.8" y="1656.76" font-size="12" text-anchor="middle" fill="#111" transform="rotate(-90 899.8 1656.76)" >0</text>
<text x="899.8" y="1706.68" font-size="12" text-anchor="middle" fill="#111" transform="rotate(-90 899.8 1706.68)" >−2</text>
<text x="899.8" y="1756.6" font-size="12" text-anchor="middle" fill="#111" transform="rotate(-90 899.8 1756.6)" >−4</text>
<text x="1365" y="1645.3" font-size="12" text-anchor="middle" fill="#111" >6</text>
<text x="1340.5" y="1661.7" font-size="12" text-anchor="middle" fill="#111" >4</text>
<text x="1316.4" y="1678.9" font-size="12" text-anchor="middle" fill="#111" >2</text>
<text x="1291.3" y="1695.6" font-size="12" text-anchor="middle" fill="#111" >0</text>
<text x="1268.3" y="1711.8" font-size="12" text-anchor="middle" fill="#111" >−2</text>
<text x="1243.7" y="1729" font-size="12" text-anchor="middle" fill="#111" >−4</text>
<text x="1219.1" y="1745.2" font-size="12" text-anchor="middle" fill="#111" >−6</text>
<text x="1194.5" y="1761.9" font-size="12" text-anchor="middle" fill="#111" >−8</text>
<text x="1039.8" y="1815" font-size="15" text-anchor="middle" fill="#111" textLength="27.5" lengthAdjust="spacingAndGlyphs" >PC1</text>
<text x="1393" y="1643.6" font-size="15" text-anchor="middle" fill="#111" textLength="29.5" lengthAdjust="spacingAndGlyphs" transform="rotate(-90 1393 1643.6)" >PC2</text>
<text x="863.4" y="1634.8" font-size="15" text-anchor="middle" fill="#111" textLength="29.5" lengthAdjust="spacingAndGlyphs" transform="rotate(-90 863.4 1634.8)" >PC3</text>
<text x="1" y="1870.9" font-size="34" text-anchor="start" fill="#2a2a2a" font-family='"Liberation Serif", serif' >G</text>
<circle cx="279" cy="1864.6" r="3.6" fill="#5b95d4"/>
<text x="293.1" y="1869.8" font-size="14.4" text-anchor="start" fill="#111" textLength="53" lengthAdjust="spacingAndGlyphs" >Low risk</text>
<circle cx="363.5" cy="1864.6" r="3.6" fill="#c64d67"/>
<text x="377.6" y="1869.8" font-size="14.4" text-anchor="start" fill="#111" textLength="56.5" lengthAdjust="spacingAndGlyphs" >High risk</text>
<path d="M163.46,2290.42H435.76M193.62,2274.54H465.92M223.78,2258.66H496.08M253.94,2242.78H526.24M178.68,2306.3L329.48,2226.9M224.07,2306.3L374.87,2226.9M269.45,2306.3L420.25,2226.9M314.83,2306.3L465.63,2226.9M360.22,2306.3L511.02,2226.9" stroke="#d2d2d2" stroke-width="1.1" fill="none"/>
<path d="M284.1,1940.6H556.4V2226.9H284.1ZM133.3,2020L284.1,1940.6M405.6,2020L556.4,1940.6M133.3,2306.3L284.1,2226.9M405.6,2306.3L556.4,2226.9" stroke="#1a1a1a" stroke-width="1.5" fill="none"/>
<g><circle cx="240.6" cy="2018.8" r="3.6" fill="#5b95d4"/><circle cx="346.5" cy="2016.6" r="3.6" fill="#c64d67"/><circle cx="409.8" cy="2026.3" r="3.6" fill="#c64d67"/><circle cx="413.4" cy="2037" r="3.6" fill="#c64d67"/><circle cx="397.4" cy="2044.1" r="3.6" fill="#c64d67"/><circle cx="358.1" cy="2045.6" r="3.6" fill="#5b95d4"/><circle cx="422.5" cy="2053.1" r="3.6" fill="#5b95d4"/><circle cx="345.4" cy="2059.5" r="3.6" fill="#c64d67"/><circle cx="370.6" cy="2068.3" r="3.6" fill="#5b95d4"/><circle cx="428.7" cy="2061.7" r="3.6" fill="#5b95d4"/><circle cx="445.7" cy="2062" r="3.6" fill="#5b95d4"/><circle cx="337.2" cy="2072.7" r="3.6" fill="#c64d67"/><circle cx="290.6" cy="2076.8" r="3.6" fill="#5b95d4"/><circle cx="399.6" cy="2073.3" r="3.6" fill="#5b95d4"/><circle cx="395.1" cy="2079.5" r="3.6" fill="#5b95d4"/><circle cx="405" cy="2078.6" r="3.6" fill="#5b95d4"/><circle cx="416.6" cy="2072.4" r="3.6" fill="#5b95d4"/><circle cx="419.8" cy="2075.6" r="3.6" fill="#c64d67"/><circle cx="432.3" cy="2069.3" r="3.6" fill="#5b95d4"/><circle cx="435.3" cy="2070.6" r="3.6" fill="#5b95d4"/><circle cx="430.9" cy="2072.4" r="3.6" fill="#5b95d4"/><circle cx="434.4" cy="2073.8" r="3.6" fill="#c64d67"/><circle cx="439.4" cy="2075.6" r="3.6" fill="#5b95d4"/><circle cx="446.6" cy="2074.7" r="3.6" fill="#c64d67"/><circle cx="427.8" cy="2085.4" r="3.6" fill="#5b95d4"/><circle cx="437.1" cy="2083.1" r="3.6" fill="#5b95d4"/><circle cx="440.7" cy="2085.4" r="3.6" fill="#c64d67"/><circle cx="449.6" cy="2083.5" r="3.6" fill="#5b95d4"/><circle cx="447.8" cy="2084.3" r="3.6" fill="#c64d67"/><circle cx="393.3" cy="2090.2" r="3.6" fill="#5b95d4"/><circle cx="391.2" cy="2095.6" r="3.6" fill="#5b95d4"/><circle cx="421.9" cy="2091.1" r="3.6" fill="#5b95d4"/><circle cx="437.1" cy="2092.6" r="3.6" fill="#c64d67"/><circle cx="444.3" cy="2088.8" r="3.6" fill="#5b95d4"/><circle cx="447.8" cy="2092.9" r="3.6" fill="#5b95d4"/><circle cx="447.8" cy="2097.4" r="3.6" fill="#5b95d4"/><circle cx="456.2" cy="2092.6" r="3.6" fill="#c64d67"/><circle cx="362.4" cy="2101.3" r="3.6" fill="#c64d67"/><circle cx="392.1" cy="2102.2" r="3.6" fill="#c64d67"/><circle cx="403.2" cy="2102.2" r="3.6" fill="#5b95d4"/><circle cx="408" cy="2104" r="3.6" fill="#5b95d4"/><circle cx="412.6" cy="2100.6" r="3.6" fill="#5b95d4"/><circle cx="420.7" cy="2102.2" r="3.6" fill="#5b95d4"/><circle cx="427.3" cy="2104.5" r="3.6" fill="#5b95d4"/><circle cx="439.4" cy="2103.1" r="3.6" fill="#c64d67"/><circle cx="444.3" cy="2102.2" r="3.6" fill="#c64d67"/><circle cx="234.8" cy="2112" r="3.6" fill="#5b95d4"/><circle cx="358.8" cy="2113.5" r="3.6" fill="#5b95d4"/><circle cx="394.2" cy="2108.6" r="3.6" fill="#c64d67"/><circle cx="395.1" cy="2113.5" r="3.6" fill="#c64d67"/><circle cx="434.1" cy="2110.3" r="3.6" fill="#5b95d4"/><circle cx="443.4" cy="2112.2" r="3.6" fill="#5b95d4"/><circle cx="441.6" cy="2110.3" r="3.6" fill="#c64d67"/><circle cx="446.6" cy="2112.2" r="3.6" fill="#c64d67"/><circle cx="381.2" cy="2117" r="3.6" fill="#c64d67"/><circle cx="429.4" cy="2117.4" r="3.6" fill="#c64d67"/><circle cx="433" cy="2117.4" r="3.6" fill="#5b95d4"/><circle cx="446.9" cy="2119.7" r="3.6" fill="#c64d67"/><circle cx="409.8" cy="2119.7" r="3.6" fill="#c64d67"/><circle cx="408.2" cy="2123.3" r="3.6" fill="#c64d67"/><circle cx="405.5" cy="2124.6" r="3.6" fill="#5b95d4"/><circle cx="407.6" cy="2127.8" r="3.6" fill="#5b95d4"/><circle cx="420.7" cy="2122.9" r="3.6" fill="#c64d67"/><circle cx="420.5" cy="2125.1" r="3.6" fill="#5b95d4"/><circle cx="425.1" cy="2131" r="3.6" fill="#c64d67"/><circle cx="406.7" cy="2131.3" r="3.6" fill="#c64d67"/><circle cx="396.4" cy="2138.1" r="3.6" fill="#5b95d4"/><circle cx="361.2" cy="2140.6" r="3.6" fill="#5b95d4"/><circle cx="418.7" cy="2136.3" r="3.6" fill="#5b95d4"/><circle cx="426.4" cy="2136.3" r="3.6" fill="#5b95d4"/><circle cx="412.1" cy="2139" r="3.6" fill="#c64d67"/><circle cx="416.6" cy="2141.2" r="3.6" fill="#5b95d4"/><circle cx="416.6" cy="2143.9" r="3.6" fill="#c64d67"/><circle cx="422.5" cy="2144.4" r="3.6" fill="#5b95d4"/><circle cx="405.8" cy="2143.9" r="3.6" fill="#c64d67"/><circle cx="436.2" cy="2138.5" r="3.6" fill="#c64d67"/><circle cx="437.7" cy="2137.6" r="3.6" fill="#c64d67"/><circle cx="340.6" cy="2146.2" r="3.6" fill="#c64d67"/><circle cx="436.6" cy="2150.5" r="3.6" fill="#c64d67"/><circle cx="437.1" cy="2153.5" r="3.6" fill="#c64d67"/><circle cx="326.9" cy="2155.9" r="3.6" fill="#5b95d4"/><circle cx="380.5" cy="2155" r="3.6" fill="#c64d67"/><circle cx="414.4" cy="2155.9" r="3.6" fill="#5b95d4"/><circle cx="423.7" cy="2152.9" r="3.6" fill="#5b95d4"/><circle cx="424.6" cy="2158.1" r="3.6" fill="#c64d67"/><circle cx="427.7" cy="2157.7" r="3.6" fill="#5b95d4"/><circle cx="432.3" cy="2159.5" r="3.6" fill="#c64d67"/><circle cx="420.5" cy="2165.2" r="3.6" fill="#c64d67"/><circle cx="393.7" cy="2169" r="3.6" fill="#c64d67"/><circle cx="410.7" cy="2170.6" r="3.6" fill="#c64d67"/><circle cx="417.1" cy="2171.1" r="3.6" fill="#5b95d4"/><circle cx="418.7" cy="2171.5" r="3.6" fill="#c64d67"/><circle cx="431.2" cy="2171.1" r="3.6" fill="#c64d67"/><circle cx="378.7" cy="2175.6" r="3.6" fill="#c64d67"/><circle cx="393.7" cy="2177.4" r="3.6" fill="#5b95d4"/><circle cx="353.7" cy="2184" r="3.6" fill="#c64d67"/><circle cx="324.9" cy="2193.1" r="3.6" fill="#c64d67"/><circle cx="410.9" cy="2194.7" r="3.6" fill="#5b95d4"/><circle cx="275.4" cy="2202.7" r="3.6" fill="#c64d67"/><circle cx="356.7" cy="2201.5" r="3.6" fill="#c64d67"/><circle cx="365.6" cy="2203.3" r="3.6" fill="#c64d67"/><circle cx="355.8" cy="2239.9" r="3.6" fill="#c64d67"/></g>
<path d="M133.3,2020H405.6V2306.3H133.3Z" stroke="#1a1a1a" stroke-width="1.5" fill="none"/>
<path d="M133.3,2303.8V2309.3M178.68,2303.8V2309.3M224.07,2303.8V2309.3M269.45,2303.8V2309.3M314.83,2303.8V2309.3M360.22,2303.8V2309.3M405.6,2303.8V2309.3M130.3,2020H136.3M130.3,2067.72H136.3M130.3,2115.43H136.3M130.3,2163.15H136.3M130.3,2210.87H136.3M130.3,2258.58H136.3M130.3,2306.3H136.3M433.76,2290.42H439.26M463.92,2274.54H469.42M494.08,2258.66H499.58M524.24,2242.78H529.74" stroke="#1a1a1a" stroke-width="1.4" fill="none"/>
<text x="133.3" y="2326.5" font-size="12" text-anchor="middle" fill="#111" >−40</text>
<text x="178" y="2326.5" font-size="12" text-anchor="middle" fill="#111" >−30</text>
<text x="223.7" y="2326.5" font-size="12" text-anchor="middle" fill="#111" >−20</text>
<text x="269.4" y="2326.5" font-size="12" text-anchor="middle" fill="#111" >−10</text>
<text x="317" y="2326.5" font-size="12" text-anchor="middle" fill="#111" >0</text>
<text x="361.5" y="2326.5" font-size="12" text-anchor="middle" fill="#111" >10</text>
<text x="406.5" y="2326.5" font-size="12" text-anchor="middle" fill="#111" >20</text>
<text x="121.3" y="2017.5" font-size="12" text-anchor="middle" fill="#111" transform="rotate(-90 121.3 2017.5)" >15</text>
<text x="121.3" y="2065.22" font-size="12" text-anchor="middle" fill="#111" transform="rotate(-90 121.3 2065.22)" >10</text>
<text x="121.3" y="2112.93" font-size="12" text-anchor="middle" fill="#111" transform="rotate(-90 121.3 2112.93)" >5</text>
<text x="121.3" y="2160.65" font-size="12" text-anchor="middle" fill="#111" transform="rotate(-90 121.3 2160.65)" >0</text>
<text x="121.3" y="2208.37" font-size="12" text-anchor="middle" fill="#111" transform="rotate(-90 121.3 2208.37)" >−5</text>
<text x="121.3" y="2256.08" font-size="12" text-anchor="middle" fill="#111" transform="rotate(-90 121.3 2256.08)" >−10</text>
<text x="121.3" y="2303.8" font-size="12" text-anchor="middle" fill="#111" transform="rotate(-90 121.3 2303.8)" >−15</text>
<text x="584.5" y="2229.8" font-size="12" text-anchor="middle" fill="#111" >20</text>
<text x="554.2" y="2245.6" font-size="12" text-anchor="middle" fill="#111" >10</text>
<text x="524.4" y="2261.5" font-size="12" text-anchor="middle" fill="#111" >0</text>
<text x="495.5" y="2277.9" font-size="12" text-anchor="middle" fill="#111" >−10</text>
<text x="464.3" y="2293.7" font-size="12" text-anchor="middle" fill="#111" >−20</text>
<text x="435.4" y="2309.6" font-size="12" text-anchor="middle" fill="#111" >−30</text>
<text x="269.4" y="2362" font-size="15" text-anchor="middle" fill="#111" textLength="27.5" lengthAdjust="spacingAndGlyphs" >PC1</text>
<text x="614" y="2226.9" font-size="15" text-anchor="middle" fill="#111" textLength="29.5" lengthAdjust="spacingAndGlyphs" transform="rotate(-90 614 2226.9)" >PC2</text>
<text x="85.8" y="2163" font-size="15" text-anchor="middle" fill="#111" textLength="29.5" lengthAdjust="spacingAndGlyphs" transform="rotate(-90 85.8 2163)" >PC3</text>
<text x="753" y="1882.6" font-size="34" text-anchor="start" fill="#2a2a2a" font-family='"Liberation Serif", serif' >H</text>
<circle cx="1065.8" cy="1893.9" r="3.91" fill="#5b95d4"/>
<text x="1081.1" y="1899.54" font-size="15.62" text-anchor="start" fill="#111" textLength="57.5" lengthAdjust="spacingAndGlyphs" >Low risk</text>
<circle cx="1157.48" cy="1893.9" r="3.91" fill="#c64d67"/>
<text x="1172.78" y="1899.54" font-size="15.62" text-anchor="start" fill="#111" textLength="61.3" lengthAdjust="spacingAndGlyphs" >High risk</text>
<path d="M960.51,2275.26H1176.81M989.43,2260.11H1205.73M1018.34,2244.97H1234.64M1047.26,2229.83H1263.56M1076.17,2214.69H1292.47M1105.09,2199.54H1321.39M974.86,2290.4L1177.26,2184.4M1018.12,2290.4L1220.52,2184.4M1061.38,2290.4L1263.78,2184.4M1104.64,2290.4L1307.04,2184.4" stroke="#d2d2d2" stroke-width="1.1" fill="none"/>
<path d="M1134,1958.4H1350.3V2184.4H1134ZM931.6,2064.4L1134,1958.4M1147.9,2064.4L1350.3,1958.4M931.6,2290.4L1134,2184.4M1147.9,2290.4L1350.3,2184.4" stroke="#1a1a1a" stroke-width="1.5" fill="none"/>
<g><circle cx="1274.6" cy="1985.9" r="3.6" fill="#c64d67"/><circle cx="1162.1" cy="2010.9" r="3.6" fill="#c64d67"/><circle cx="1158" cy="2014.1" r="3.6" fill="#c64d67"/><circle cx="1172.8" cy="2012.2" r="3.6" fill="#c64d67"/><circle cx="1225.1" cy="2012.7" r="3.6" fill="#c64d67"/><circle cx="1151.7" cy="2020.8" r="3.6" fill="#5b95d4"/><circle cx="1158.5" cy="2022" r="3.6" fill="#c64d67"/><circle cx="1131.7" cy="2036.5" r="3.6" fill="#c64d67"/><circle cx="1171" cy="2036.3" r="3.6" fill="#c64d67"/><circle cx="1166.2" cy="2046.7" r="3.6" fill="#c64d67"/><circle cx="1270.2" cy="2054.2" r="3.6" fill="#c64d67"/><circle cx="1125.4" cy="2043.5" r="3.6" fill="#5b95d4"/><circle cx="1081.1" cy="2045.8" r="3.6" fill="#5b95d4"/><circle cx="1084.3" cy="2044" r="3.6" fill="#5b95d4"/><circle cx="1090.6" cy="2042.2" r="3.6" fill="#c64d67"/><circle cx="1095.1" cy="2044.9" r="3.6" fill="#c64d67"/><circle cx="1106.7" cy="2038.1" r="3.6" fill="#c64d67"/><circle cx="1108.5" cy="2042.2" r="3.6" fill="#c64d67"/><circle cx="1114.7" cy="2044.9" r="3.6" fill="#c64d67"/><circle cx="1117.4" cy="2047" r="3.6" fill="#c64d67"/><circle cx="1103.1" cy="2044.9" r="3.6" fill="#c64d67"/><circle cx="1087.9" cy="2047.6" r="3.6" fill="#c64d67"/><circle cx="1096.8" cy="2049.4" r="3.6" fill="#c64d67"/><circle cx="1087.9" cy="2053.8" r="3.6" fill="#5b95d4"/><circle cx="1101.3" cy="2051.1" r="3.6" fill="#c64d67"/><circle cx="1105.8" cy="2052.9" r="3.6" fill="#c64d67"/><circle cx="1095.1" cy="2052.9" r="3.6" fill="#c64d67"/><circle cx="1094.2" cy="2058.3" r="3.6" fill="#5b95d4"/><circle cx="1105.8" cy="2057.4" r="3.6" fill="#c64d67"/><circle cx="1117.4" cy="2058.3" r="3.6" fill="#c64d67"/><circle cx="1080.8" cy="2057.9" r="3.6" fill="#5b95d4"/><circle cx="1086.1" cy="2060.1" r="3.6" fill="#c64d67"/><circle cx="1078.1" cy="2061" r="3.6" fill="#5b95d4"/><circle cx="1071.8" cy="2062.8" r="3.6" fill="#5b95d4"/><circle cx="1075.4" cy="2064.5" r="3.6" fill="#5b95d4"/><circle cx="1087.9" cy="2062.8" r="3.6" fill="#c64d67"/><circle cx="1100.4" cy="2062.8" r="3.6" fill="#5b95d4"/><circle cx="1104.9" cy="2062.8" r="3.6" fill="#c64d67"/><circle cx="1098.6" cy="2065.4" r="3.6" fill="#c64d67"/><circle cx="1123.6" cy="2061.3" r="3.6" fill="#5b95d4"/><circle cx="1127.2" cy="2061.5" r="3.6" fill="#c64d67"/><circle cx="1125.4" cy="2069" r="3.6" fill="#c64d67"/><circle cx="1131.7" cy="2072.6" r="3.6" fill="#c64d67"/><circle cx="1115.2" cy="2068.1" r="3.6" fill="#c64d67"/><circle cx="1091.5" cy="2067.2" r="3.6" fill="#5b95d4"/><circle cx="1088.8" cy="2071.7" r="3.6" fill="#5b95d4"/><circle cx="1097.7" cy="2069.9" r="3.6" fill="#5b95d4"/><circle cx="1102.2" cy="2071.7" r="3.6" fill="#5b95d4"/><circle cx="1105.4" cy="2071.7" r="3.6" fill="#c64d67"/><circle cx="1072.7" cy="2073.5" r="3.6" fill="#5b95d4"/><circle cx="1077.2" cy="2075.3" r="3.6" fill="#5b95d4"/><circle cx="1084.3" cy="2077" r="3.6" fill="#5b95d4"/><circle cx="1074.5" cy="2079.4" r="3.6" fill="#5b95d4"/><circle cx="1069.1" cy="2081.2" r="3.6" fill="#5b95d4"/><circle cx="1063.8" cy="2084.2" r="3.6" fill="#5b95d4"/><circle cx="1074.5" cy="2082.9" r="3.6" fill="#5b95d4"/><circle cx="1080.8" cy="2083.3" r="3.6" fill="#5b95d4"/><circle cx="1119.2" cy="2077.9" r="3.6" fill="#c64d67"/><circle cx="1108.8" cy="2082" r="3.6" fill="#5b95d4"/><circle cx="1066.8" cy="2091.9" r="3.6" fill="#5b95d4"/><circle cx="1086.1" cy="2096.2" r="3.6" fill="#5b95d4"/><circle cx="1098.6" cy="2095.8" r="3.6" fill="#5b95d4"/><circle cx="1099.9" cy="2100.8" r="3.6" fill="#5b95d4"/><circle cx="1054.8" cy="2099.9" r="3.6" fill="#5b95d4"/><circle cx="1054" cy="2103" r="3.6" fill="#5b95d4"/><circle cx="1107.6" cy="2108.3" r="3.6" fill="#5b95d4"/><circle cx="1106.3" cy="2111" r="3.6" fill="#5b95d4"/><circle cx="1044.1" cy="2114" r="3.6" fill="#5b95d4"/><circle cx="1064.1" cy="2115.8" r="3.6" fill="#5b95d4"/><circle cx="1064.1" cy="2124.4" r="3.6" fill="#5b95d4"/><circle cx="1081.7" cy="2124" r="3.6" fill="#5b95d4"/><circle cx="1168.7" cy="2089.2" r="3.6" fill="#c64d67"/><circle cx="1152.2" cy="2102.1" r="3.6" fill="#c64d67"/><circle cx="1223.7" cy="2077.6" r="3.6" fill="#c64d67"/><circle cx="1141" cy="2118.5" r="3.6" fill="#c64d67"/><circle cx="1030.7" cy="2139.6" r="3.6" fill="#5b95d4"/><circle cx="1135.3" cy="2140.5" r="3.6" fill="#c64d67"/></g>
<path d="M931.6,2064.4H1147.9V2290.4H931.6Z" stroke="#1a1a1a" stroke-width="1.5" fill="none"/>
<path d="M931.6,2287.9V2293.4M974.86,2287.9V2293.4M1018.12,2287.9V2293.4M1061.38,2287.9V2293.4M1104.64,2287.9V2293.4M1147.9,2287.9V2293.4M928.6,2064.4H934.6M928.6,2109.6H934.6M928.6,2154.8H934.6M928.6,2200H934.6M928.6,2245.2H934.6M928.6,2290.4H934.6M1174.81,2275.26H1180.31M1203.73,2260.11H1209.23M1232.64,2244.97H1238.14M1261.56,2229.83H1267.06M1290.47,2214.69H1295.97M1319.39,2199.54H1324.89" stroke="#1a1a1a" stroke-width="1.4" fill="none"/>
<text x="932.5" y="2310" font-size="12.9" text-anchor="middle" fill="#111" >−4</text>
<text x="976" y="2310" font-size="12.9" text-anchor="middle" fill="#111" >−2</text>
<text x="1019.8" y="2310" font-size="12.9" text-anchor="middle" fill="#111" >0</text>
<text x="1063.5" y="2310" font-size="12.9" text-anchor="middle" fill="#111" >2</text>
<text x="1106.4" y="2310" font-size="12.9" text-anchor="middle" fill="#111" >4</text>
<text x="1149.3" y="2310" font-size="12.9" text-anchor="middle" fill="#111" >6</text>
<text x="920.3" y="2061.9" font-size="12.9" text-anchor="middle" fill="#111" transform="rotate(-90 920.3 2061.9)" >2</text>
<text x="920.3" y="2107.1" font-size="12.9" text-anchor="middle" fill="#111" transform="rotate(-90 920.3 2107.1)" >0</text>
<text x="920.3" y="2152.3" font-size="12.9" text-anchor="middle" fill="#111" transform="rotate(-90 920.3 2152.3)" >−2</text>
<text x="920.3" y="2197.5" font-size="12.9" text-anchor="middle" fill="#111" transform="rotate(-90 920.3 2197.5)" >−4</text>
<text x="920.3" y="2242.7" font-size="12.9" text-anchor="middle" fill="#111" transform="rotate(-90 920.3 2242.7)" >−6</text>
<text x="920.3" y="2287.9" font-size="12.9" text-anchor="middle" fill="#111" transform="rotate(-90 920.3 2287.9)" >−8</text>
<text x="1376.4" y="2188.42" font-size="12.9" text-anchor="middle" fill="#111" >4</text>
<text x="1347.9" y="2203.12" font-size="12.9" text-anchor="middle" fill="#111" >3</text>
<text x="1319.8" y="2217.92" font-size="12.9" text-anchor="middle" fill="#111" >2</text>
<text x="1290.4" y="2232.62" font-size="12.9" text-anchor="middle" fill="#111" >1</text>
<text x="1261.9" y="2248.42" font-size="12.9" text-anchor="middle" fill="#111" >0</text>
<text x="1233.9" y="2263.12" font-size="12.9" text-anchor="middle" fill="#111" >−1</text>
<text x="1204.4" y="2278.32" font-size="12.9" text-anchor="middle" fill="#111" >−2</text>
<text x="1175.9" y="2293.12" font-size="12.9" text-anchor="middle" fill="#111" >−3</text>
<text x="1039.6" y="2350.9" font-size="16.2" text-anchor="middle" fill="#111" textLength="29.7" lengthAdjust="spacingAndGlyphs" >PC1</text>
<text x="1404.2" y="2184.8" font-size="16.2" text-anchor="middle" fill="#111" textLength="31.86" lengthAdjust="spacingAndGlyphs" transform="rotate(-90 1404.2 2184.8)" >PC2</text>
<text x="882" y="2177.4" font-size="16.2" text-anchor="middle" fill="#111" textLength="31.86" lengthAdjust="spacingAndGlyphs" transform="rotate(-90 882 2177.4)" >PC3</text>
</svg>
</body></html>
